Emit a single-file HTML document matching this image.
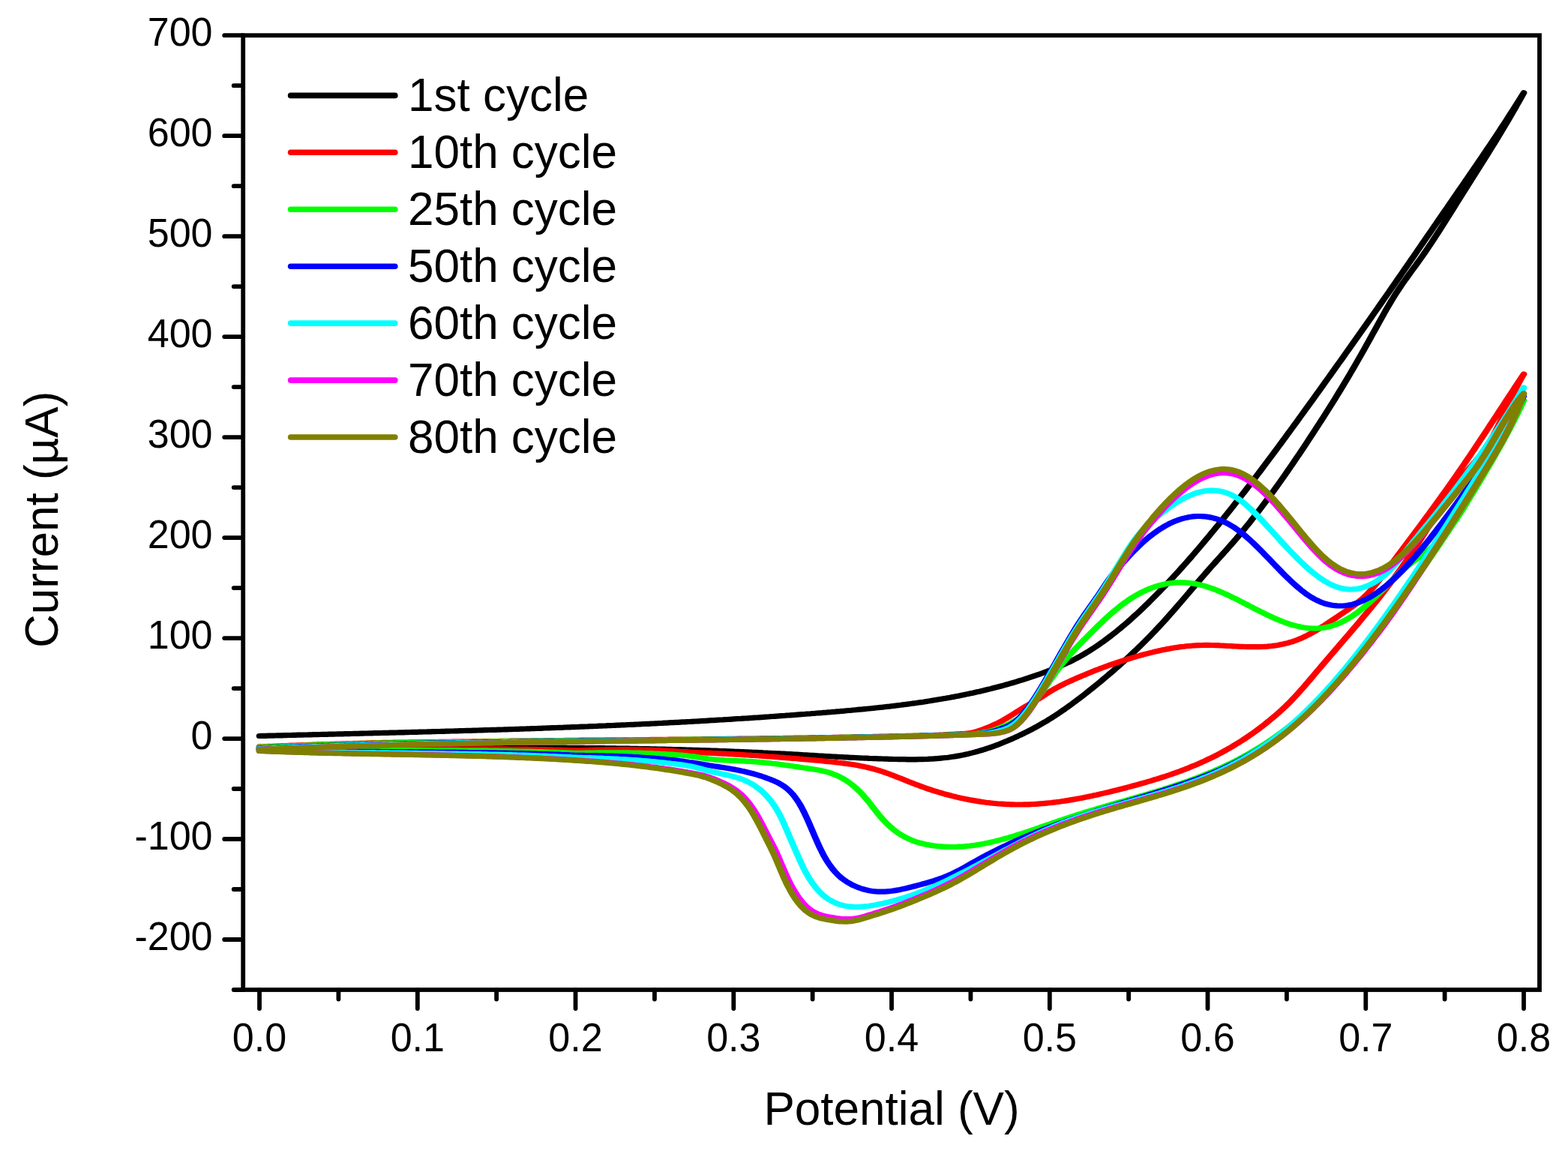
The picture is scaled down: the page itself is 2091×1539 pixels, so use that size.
<!DOCTYPE html>
<html lang="en"><head><meta charset="utf-8"><title>Cyclic voltammogram</title>
<style>html,body{margin:0;padding:0;background:#fff}body{width:2091px;height:1539px;overflow:hidden}svg{display:block}text{font-family:"Liberation Sans",Arial,Helvetica,sans-serif;fill:#000}.tk{font-size:52px}.tt{font-size:62px}.lg{font-size:62px}.c{fill:none;stroke-width:7.2;stroke-linejoin:round;stroke-linecap:round}.ax{fill:none;stroke:#000;stroke-width:5.8;stroke-linecap:round}</style></head><body>
<svg width="2091" height="1539" viewBox="0 0 2091 1539">
<rect width="2091" height="1539" fill="#fff"/>
<g class="c" transform="scale(1.2,1)">
<path stroke="#000000" d="M288.33,981.5 290.83,981.4 293.33,981.4 295.83,981.3 298.33,981.2 300.83,981.1 303.33,981.1 305.83,981 308.33,980.9 310.83,980.8 313.33,980.8 315.83,980.7 318.33,980.6 320.83,980.5 323.33,980.5 325.83,980.4 328.33,980.3 330.83,980.2 333.33,980.2 335.83,980.1 338.33,980 340.83,980 343.33,979.9 345.83,979.8 348.33,979.7 350.83,979.7 353.33,979.6 355.83,979.5 358.33,979.4 360.83,979.4 363.33,979.3 365.83,979.2 368.33,979.2 370.83,979.1 373.33,979 375.83,978.9 378.33,978.9 380.83,978.8 383.33,978.7 385.83,978.6 388.33,978.6 390.83,978.5 393.33,978.4 395.83,978.3 398.33,978.3 400.83,978.2 403.33,978.1 405.83,978 408.33,978 410.83,977.9 413.33,977.8 415.83,977.7 418.33,977.7 420.83,977.6 423.33,977.5 425.83,977.4 428.33,977.4 430.83,977.3 433.33,977.2 435.83,977.1 438.33,977.1 440.83,977 443.33,976.9 445.83,976.8 448.33,976.8 450.83,976.7 453.33,976.6 455.83,976.5 458.33,976.4 460.83,976.4 463.33,976.3 465.83,976.2 468.33,976.1 470.83,976 473.33,976 475.83,975.9 478.33,975.8 480.83,975.7 483.33,975.6 485.83,975.5 488.33,975.5 490.83,975.4 493.33,975.3 495.83,975.2 498.33,975.1 500.83,975 503.33,975 505.83,974.9 508.33,974.8 510.83,974.7 513.33,974.6 515.83,974.5 518.33,974.4 520.83,974.4 523.33,974.3 525.83,974.2 528.33,974.1 530.83,974 533.33,973.9 535.83,973.8 538.33,973.7 540.83,973.6 543.33,973.5 545.83,973.4 548.33,973.3 550.83,973.3 553.33,973.2 555.83,973.1 558.33,973 560.83,972.9 563.33,972.8 565.83,972.7 568.33,972.6 570.83,972.5 573.33,972.4 575.83,972.3 578.33,972.2 580.83,972.1 583.33,972 585.83,971.9 588.33,971.8 590.83,971.7 593.33,971.6 595.83,971.5 598.33,971.4 600.83,971.3 603.33,971.1 605.83,971 608.33,970.9 610.83,970.8 613.33,970.7 615.83,970.6 618.33,970.5 620.83,970.4 623.33,970.3 625.83,970.2 628.33,970 630.83,969.9 633.33,969.8 635.83,969.7 638.33,969.6 640.83,969.5 643.33,969.3 645.83,969.2 648.33,969.1 650.83,969 653.33,968.9 655.83,968.7 658.33,968.6 660.83,968.5 663.33,968.4 665.83,968.2 668.33,968.1 670.83,968 673.33,967.9 675.83,967.7 678.33,967.6 680.83,967.5 683.33,967.3 685.83,967.2 688.33,967.1 690.83,966.9 693.33,966.8 695.83,966.7 698.33,966.5 700.83,966.4 703.33,966.3 705.83,966.1 708.33,966 710.83,965.8 713.33,965.7 715.83,965.5 718.33,965.4 720.83,965.3 723.33,965.1 725.83,965 728.33,964.8 730.83,964.7 733.33,964.5 735.83,964.4 738.33,964.2 740.83,964.1 743.33,963.9 745.83,963.7 748.33,963.6 750.83,963.4 753.33,963.3 755.83,963.1 758.33,962.9 760.83,962.8 763.33,962.6 765.83,962.5 768.33,962.3 770.83,962.1 773.33,962 775.83,961.8 778.33,961.6 780.83,961.4 783.33,961.3 785.83,961.1 788.33,960.9 790.83,960.7 793.33,960.6 795.83,960.4 798.33,960.2 800.83,960 803.33,959.9 805.83,959.7 808.33,959.5 810.83,959.3 813.33,959.1 815.83,958.9 818.33,958.7 820.83,958.5 823.33,958.4 825.83,958.2 828.33,958 830.83,957.8 833.33,957.6 835.83,957.4 838.33,957.2 840.83,957 843.33,956.8 845.83,956.6 848.33,956.4 850.83,956.2 853.33,956 855.83,955.7 858.33,955.5 860.83,955.3 863.33,955.1 865.83,954.9 868.33,954.7 870.83,954.5 873.33,954.2 875.83,954 878.33,953.8 880.83,953.6 883.33,953.4 885.83,953.1 888.33,952.9 890.83,952.7 893.33,952.5 895.83,952.2 898.33,952 900.83,951.8 903.33,951.5 905.83,951.3 908.33,951 910.83,950.8 913.33,950.6 915.83,950.3 918.33,950.1 920.83,949.8 923.33,949.6 925.83,949.3 928.33,949.1 930.83,948.8 933.33,948.6 935.83,948.3 938.33,948.1 940.83,947.8 943.33,947.5 945.83,947.3 948.33,947 950.83,946.7 953.33,946.4 955.83,946.1 958.33,945.9 960.83,945.6 963.33,945.3 965.83,945 968.33,944.7 970.83,944.4 973.33,944 975.83,943.7 978.33,943.4 980.83,943.1 983.33,942.7 985.83,942.4 988.33,942.1 990.83,941.7 993.33,941.4 995.83,941 998.33,940.6 1000.83,940.3 1003.33,939.9 1005.83,939.5 1008.33,939.1 1010.83,938.7 1013.33,938.3 1015.83,937.9 1018.33,937.5 1020.83,937 1023.33,936.6 1025.83,936.2 1028.33,935.7 1030.83,935.2 1033.33,934.8 1035.83,934.3 1038.33,933.8 1040.83,933.3 1043.33,932.8 1045.83,932.3 1048.33,931.8 1050.83,931.3 1053.33,930.7 1055.83,930.2 1058.33,929.6 1060.83,929.1 1063.33,928.5 1065.83,927.9 1068.33,927.3 1070.83,926.7 1073.33,926.1 1075.83,925.4 1078.33,924.8 1080.83,924.2 1083.33,923.5 1085.83,922.8 1088.33,922.2 1090.83,921.5 1093.33,920.8 1095.83,920 1098.33,919.3 1100.83,918.6 1103.33,917.8 1105.83,917 1108.33,916.3 1110.83,915.5 1113.33,914.7 1115.83,913.9 1118.33,913 1120.83,912.2 1123.33,911.3 1125.83,910.5 1128.33,909.6 1130.83,908.7 1133.33,907.7 1135.83,906.8 1138.33,905.9 1140.83,904.9 1143.33,903.9 1145.83,902.9 1148.33,901.9 1150.83,900.9 1153.33,899.8 1155.83,898.8 1158.33,897.7 1160.83,896.6 1163.33,895.5 1165.83,894.3 1168.33,893.2 1170.83,892 1173.33,890.8 1175.83,889.5 1178.33,888.3 1180.83,886.9 1183.33,885.6 1185.83,884.2 1188.33,882.8 1190.83,881.3 1193.33,879.8 1195.83,878.2 1198.33,876.6 1200.83,875 1203.33,873.3 1205.83,871.5 1208.33,869.7 1210.83,867.8 1213.33,865.9 1215.83,864 1218.33,862 1220.83,859.9 1223.33,857.8 1225.83,855.7 1228.33,853.5 1230.83,851.3 1233.33,849 1235.83,846.7 1238.33,844.4 1240.83,842 1243.33,839.5 1245.83,837.1 1248.33,834.5 1250.83,832 1253.33,829.4 1255.83,826.7 1258.33,824 1260.83,821.3 1263.33,818.6 1265.83,815.8 1268.33,813 1270.83,810.1 1273.33,807.2 1275.83,804.3 1278.33,801.3 1280.83,798.3 1283.33,795.3 1285.83,792.3 1288.33,789.2 1290.83,786.1 1293.33,783 1295.83,779.8 1298.33,776.6 1300.83,773.4 1303.33,770.2 1305.83,766.9 1308.33,763.7 1310.83,760.4 1313.33,757 1315.83,753.7 1318.33,750.3 1320.83,746.9 1323.33,743.5 1325.83,740 1328.33,736.5 1330.83,733 1333.33,729.5 1335.83,726 1338.33,722.4 1340.83,718.8 1343.33,715.3 1345.83,711.6 1348.33,708 1350.83,704.3 1353.33,700.7 1355.83,697 1358.33,693.3 1360.83,689.5 1363.33,685.8 1365.83,682 1368.33,678.2 1370.83,674.4 1373.33,670.6 1375.83,666.8 1378.33,662.9 1380.83,659.1 1383.33,655.2 1385.83,651.3 1388.33,647.4 1390.83,643.5 1393.33,639.5 1395.83,635.6 1398.33,631.6 1400.83,627.7 1403.33,623.7 1405.83,619.7 1408.33,615.7 1410.83,611.7 1413.33,607.7 1415.83,603.6 1418.33,599.6 1420.83,595.5 1423.33,591.5 1425.83,587.4 1428.33,583.3 1430.83,579.2 1433.33,575.1 1435.83,571 1438.33,566.9 1440.83,562.8 1443.33,558.7 1445.83,554.5 1448.33,550.4 1450.83,546.2 1453.33,542.1 1455.83,537.9 1458.33,533.8 1460.83,529.6 1463.33,525.4 1465.83,521.3 1468.33,517.1 1470.83,512.9 1473.33,508.7 1475.83,504.5 1478.33,500.3 1480.83,496.1 1483.33,491.9 1485.83,487.7 1488.33,483.5 1490.83,479.3 1493.33,475.1 1495.83,470.8 1498.33,466.6 1500.83,462.4 1503.33,458.1 1505.83,453.9 1508.33,449.6 1510.83,445.4 1513.33,441.1 1515.83,436.9 1518.33,432.6 1520.83,428.4 1523.33,424.1 1525.83,419.8 1528.33,415.5 1530.83,411.2 1533.33,406.9 1535.83,402.6 1538.33,398.3 1540.83,394 1543.33,389.7 1545.83,385.4 1548.33,381.1 1550.83,376.8 1553.33,372.4 1555.83,368.1 1558.33,363.8 1560.83,359.4 1563.33,355.1 1565.83,350.8 1568.33,346.4 1570.83,342.1 1573.33,337.7 1575.83,333.3 1578.33,329 1580.83,324.6 1583.33,320.3 1585.83,315.9 1588.33,311.6 1590.83,307.2 1593.33,302.8 1595.83,298.5 1598.33,294.1 1600.83,289.7 1603.33,285.4 1605.83,281 1608.33,276.7 1610.83,272.3 1613.33,268 1615.83,263.6 1618.33,259.2 1620.83,254.9 1623.33,250.5 1625.83,246.2 1628.33,241.8 1630.83,237.5 1633.33,233.1 1635.83,228.7 1638.33,224.4 1640.83,220 1643.33,215.6 1645.83,211.2 1648.33,206.7 1650.83,202.3 1653.33,197.9 1655.83,193.4 1658.33,188.9 1660.83,184.4 1663.33,179.9 1665.83,175.4 1668.33,170.8 1670.83,166.2 1673.33,161.6 1675.83,157 1678.33,152.3 1680.83,147.7 1683.33,142.9 1685.83,138.2 1688.33,133.4 1690.83,128.6 1693.33,123.8 1690.83,129.1 1688.33,134.5 1685.83,139.8 1683.33,145.1 1680.83,150.3 1678.33,155.5 1675.83,160.6 1673.33,165.6 1670.83,170.7 1668.33,175.7 1665.83,180.6 1663.33,185.6 1660.83,190.5 1658.33,195.3 1655.83,200.2 1653.33,205 1650.83,209.8 1648.33,214.6 1645.83,219.3 1643.33,224.1 1640.83,228.9 1638.33,233.6 1635.83,238.3 1633.33,243.1 1630.83,247.8 1628.33,252.6 1625.83,257.3 1623.33,262.1 1620.83,266.9 1618.33,271.7 1615.83,276.5 1613.33,281.3 1610.83,286.1 1608.33,290.8 1605.83,295.6 1603.33,300.4 1600.83,305.1 1598.33,309.8 1595.83,314.4 1593.33,319 1590.83,323.6 1588.33,328.1 1585.83,332.5 1583.33,336.9 1580.83,341.2 1578.33,345.5 1575.83,349.7 1573.33,353.8 1570.83,357.9 1568.33,362 1565.83,366.1 1563.33,370.3 1560.83,374.5 1558.33,378.8 1555.83,383.2 1553.33,387.7 1550.83,392.3 1548.33,397.1 1545.83,402 1543.33,407.1 1540.83,412.2 1538.33,417.5 1535.83,422.9 1533.33,428.3 1530.83,433.7 1528.33,439.2 1525.83,444.6 1523.33,450 1520.83,455.4 1518.33,460.8 1515.83,466.2 1513.33,471.5 1510.83,476.8 1508.33,482 1505.83,487.2 1503.33,492.4 1500.83,497.5 1498.33,502.6 1495.83,507.6 1493.33,512.6 1490.83,517.6 1488.33,522.5 1485.83,527.4 1483.33,532.3 1480.83,537.1 1478.33,541.9 1475.83,546.6 1473.33,551.4 1470.83,556.1 1468.33,560.7 1465.83,565.4 1463.33,570 1460.83,574.6 1458.33,579.2 1455.83,583.8 1453.33,588.4 1450.83,592.9 1448.33,597.4 1445.83,601.9 1443.33,606.4 1440.83,610.8 1438.33,615.3 1435.83,619.7 1433.33,624 1430.83,628.4 1428.33,632.7 1425.83,637 1423.33,641.3 1420.83,645.5 1418.33,649.7 1415.83,653.9 1413.33,658 1410.83,662.1 1408.33,666.2 1405.83,670.2 1403.33,674.2 1400.83,678.2 1398.33,682.1 1395.83,686 1393.33,689.8 1390.83,693.6 1388.33,697.4 1385.83,701.1 1383.33,704.8 1380.83,708.5 1378.33,712 1375.83,715.6 1373.33,719.1 1370.83,722.6 1368.33,726 1365.83,729.4 1363.33,732.8 1360.83,736.1 1358.33,739.5 1355.83,742.8 1353.33,746.2 1350.83,749.5 1348.33,752.9 1345.83,756.2 1343.33,759.6 1340.83,763 1338.33,766.5 1335.83,769.9 1333.33,773.4 1330.83,776.9 1328.33,780.4 1325.83,783.9 1323.33,787.4 1320.83,791 1318.33,794.5 1315.83,798 1313.33,801.5 1310.83,805 1308.33,808.4 1305.83,811.9 1303.33,815.3 1300.83,818.7 1298.33,822.1 1295.83,825.5 1293.33,828.8 1290.83,832.1 1288.33,835.3 1285.83,838.5 1283.33,841.7 1280.83,844.8 1278.33,847.9 1275.83,851 1273.33,854 1270.83,857 1268.33,860 1265.83,862.9 1263.33,865.8 1260.83,868.7 1258.33,871.5 1255.83,874.3 1253.33,877.1 1250.83,879.9 1248.33,882.6 1245.83,885.3 1243.33,888 1240.83,890.6 1238.33,893.3 1235.83,895.9 1233.33,898.4 1230.83,901 1228.33,903.5 1225.83,906.1 1223.33,908.6 1220.83,911 1218.33,913.5 1215.83,915.9 1213.33,918.3 1210.83,920.7 1208.33,923.1 1205.83,925.5 1203.33,927.8 1200.83,930.1 1198.33,932.4 1195.83,934.7 1193.33,936.9 1190.83,939.1 1188.33,941.3 1185.83,943.4 1183.33,945.6 1180.83,947.6 1178.33,949.7 1175.83,951.7 1173.33,953.7 1170.83,955.7 1168.33,957.6 1165.83,959.4 1163.33,961.3 1160.83,963.1 1158.33,964.8 1155.83,966.5 1153.33,968.2 1150.83,969.9 1148.33,971.5 1145.83,973.1 1143.33,974.6 1140.83,976.2 1138.33,977.6 1135.83,979.1 1133.33,980.5 1130.83,982 1128.33,983.3 1125.83,984.7 1123.33,986 1120.83,987.3 1118.33,988.6 1115.83,989.8 1113.33,991 1110.83,992.2 1108.33,993.4 1105.83,994.5 1103.33,995.6 1100.83,996.6 1098.33,997.7 1095.83,998.6 1093.33,999.6 1090.83,1000.5 1088.33,1001.4 1085.83,1002.3 1083.33,1003.1 1080.83,1003.9 1078.33,1004.6 1075.83,1005.4 1073.33,1006 1070.83,1006.7 1068.33,1007.3 1065.83,1007.9 1063.33,1008.4 1060.83,1008.9 1058.33,1009.3 1055.83,1009.8 1053.33,1010.2 1050.83,1010.5 1048.33,1010.8 1045.83,1011.1 1043.33,1011.4 1040.83,1011.7 1038.33,1011.9 1035.83,1012.1 1033.33,1012.2 1030.83,1012.4 1028.33,1012.5 1025.83,1012.6 1023.33,1012.7 1020.83,1012.7 1018.33,1012.8 1015.83,1012.8 1013.33,1012.8 1010.83,1012.8 1008.33,1012.8 1005.83,1012.7 1003.33,1012.7 1000.83,1012.7 998.33,1012.6 995.83,1012.5 993.33,1012.5 990.83,1012.4 988.33,1012.3 985.83,1012.2 983.33,1012.1 980.83,1012 978.33,1011.9 975.83,1011.8 973.33,1011.7 970.83,1011.6 968.33,1011.5 965.83,1011.4 963.33,1011.2 960.83,1011.1 958.33,1011 955.83,1010.8 953.33,1010.7 950.83,1010.5 948.33,1010.4 945.83,1010.3 943.33,1010.1 940.83,1009.9 938.33,1009.8 935.83,1009.6 933.33,1009.5 930.83,1009.3 928.33,1009.1 925.83,1009 923.33,1008.8 920.83,1008.6 918.33,1008.5 915.83,1008.3 913.33,1008.1 910.83,1008 908.33,1007.8 905.83,1007.6 903.33,1007.4 900.83,1007.3 898.33,1007.1 895.83,1006.9 893.33,1006.8 890.83,1006.6 888.33,1006.4 885.83,1006.2 883.33,1006.1 880.83,1005.9 878.33,1005.7 875.83,1005.6 873.33,1005.4 870.83,1005.2 868.33,1005.1 865.83,1004.9 863.33,1004.8 860.83,1004.6 858.33,1004.5 855.83,1004.3 853.33,1004.2 850.83,1004 848.33,1003.9 845.83,1003.7 843.33,1003.6 840.83,1003.4 838.33,1003.3 835.83,1003.2 833.33,1003 830.83,1002.9 828.33,1002.8 825.83,1002.6 823.33,1002.5 820.83,1002.4 818.33,1002.3 815.83,1002.2 813.33,1002 810.83,1001.9 808.33,1001.8 805.83,1001.7 803.33,1001.6 800.83,1001.5 798.33,1001.3 795.83,1001.2 793.33,1001.1 790.83,1001 788.33,1000.9 785.83,1000.8 783.33,1000.7 780.83,1000.6 778.33,1000.5 775.83,1000.4 773.33,1000.3 770.83,1000.3 768.33,1000.2 765.83,1000.1 763.33,1000 760.83,999.9 758.33,999.8 755.83,999.7 753.33,999.7 750.83,999.6 748.33,999.5 745.83,999.4 743.33,999.3 740.83,999.3 738.33,999.2 735.83,999.1 733.33,999.1 730.83,999 728.33,998.9 725.83,998.9 723.33,998.8 720.83,998.7 718.33,998.7 715.83,998.6 713.33,998.6 710.83,998.5 708.33,998.4 705.83,998.4 703.33,998.3 700.83,998.3 698.33,998.2 695.83,998.2 693.33,998.1 690.83,998.1 688.33,998 685.83,998 683.33,997.9 680.83,997.9 678.33,997.9 675.83,997.8 673.33,997.8 670.83,997.7 668.33,997.7 665.83,997.7 663.33,997.6 660.83,997.6 658.33,997.6 655.83,997.5 653.33,997.5 650.83,997.5 648.33,997.4 645.83,997.4 643.33,997.4 640.83,997.4 638.33,997.3 635.83,997.3 633.33,997.3 630.83,997.3 628.33,997.2 625.83,997.2 623.33,997.2 620.83,997.2 618.33,997.2 615.83,997.2 613.33,997.1 610.83,997.1 608.33,997.1 605.83,997.1 603.33,997.1 600.83,997.1 598.33,997.1 595.83,997.1 593.33,997 590.83,997 588.33,997 585.83,997 583.33,997 580.83,997 578.33,997 575.83,997 573.33,997 570.83,997 568.33,997 565.83,997 563.33,997 560.83,997 558.33,997 555.83,997 553.33,997 550.83,997 548.33,997 545.83,997 543.33,997 540.83,997 538.33,997 535.83,997 533.33,997 530.83,997 528.33,997 525.83,997 523.33,997 520.83,997 518.33,997 515.83,997.1 513.33,997.1 510.83,997.1 508.33,997.1 505.83,997.1 503.33,997.1 500.83,997.1 498.33,997.1 495.83,997.1 493.33,997.1 490.83,997.2 488.33,997.2 485.83,997.2 483.33,997.2 480.83,997.2 478.33,997.2 475.83,997.2 473.33,997.2 470.83,997.3 468.33,997.3 465.83,997.3 463.33,997.3 460.83,997.3 458.33,997.3 455.83,997.3 453.33,997.4 450.83,997.4 448.33,997.4 445.83,997.4 443.33,997.4 440.83,997.4 438.33,997.4 435.83,997.5 433.33,997.5 430.83,997.5 428.33,997.5 425.83,997.5 423.33,997.5 420.83,997.5 418.33,997.6 415.83,997.6 413.33,997.6 410.83,997.6 408.33,997.6 405.83,997.6 403.33,997.7 400.83,997.7 398.33,997.7 395.83,997.7 393.33,997.7 390.83,997.7 388.33,997.7 385.83,997.7 383.33,997.8 380.83,997.8 378.33,997.8 375.83,997.8 373.33,997.8 370.83,997.8 368.33,997.8 365.83,997.8 363.33,997.9 360.83,997.9 358.33,997.9 355.83,997.9 353.33,997.9 350.83,997.9 348.33,997.9 345.83,997.9 343.33,997.9 340.83,997.9 338.33,998 335.83,998 333.33,998 330.83,998 328.33,998 325.83,998 323.33,998 320.83,998 318.33,998 315.83,998 313.33,998 310.83,998 308.33,998 305.83,998 303.33,998 300.83,998 298.33,998 295.83,998 293.33,998 290.83,998 288.33,998.0"/>
<path stroke="#ff0000" d="M288.33,995.9 290.83,995.8 293.33,995.7 295.83,995.5 298.33,995.4 300.83,995.3 303.33,995.2 305.83,995 308.33,994.9 310.83,994.8 313.33,994.7 315.83,994.6 318.33,994.5 320.83,994.3 323.33,994.2 325.83,994.1 328.33,994 330.83,993.9 333.33,993.8 335.83,993.7 338.33,993.6 340.83,993.5 343.33,993.4 345.83,993.3 348.33,993.2 350.83,993.1 353.33,992.9 355.83,992.8 358.33,992.7 360.83,992.6 363.33,992.5 365.83,992.5 368.33,992.4 370.83,992.3 373.33,992.2 375.83,992.1 378.33,992 380.83,991.9 383.33,991.8 385.83,991.7 388.33,991.6 390.83,991.5 393.33,991.4 395.83,991.3 398.33,991.3 400.83,991.2 403.33,991.1 405.83,991 408.33,990.9 410.83,990.8 413.33,990.7 415.83,990.7 418.33,990.6 420.83,990.5 423.33,990.5 425.83,990.4 428.33,990.4 430.83,990.4 433.33,990.3 435.83,990.3 438.33,990.2 440.83,990.2 443.33,990.1 445.83,990.1 448.33,990 450.83,990 453.33,990 455.83,989.9 458.33,989.9 460.83,989.8 463.33,989.8 465.83,989.8 468.33,989.7 470.83,989.7 473.33,989.6 475.83,989.6 478.33,989.6 480.83,989.5 483.33,989.5 485.83,989.5 488.33,989.4 490.83,989.4 493.33,989.4 495.83,989.3 498.33,989.3 500.83,989.3 503.33,989.2 505.83,989.2 508.33,989.2 510.83,989.1 513.33,989.1 515.83,989.1 518.33,989.1 520.83,989 523.33,989 525.83,988.9 528.33,988.9 530.83,988.8 533.33,988.8 535.83,988.7 538.33,988.7 540.83,988.7 543.33,988.6 545.83,988.6 548.33,988.5 550.83,988.5 553.33,988.5 555.83,988.4 558.33,988.4 560.83,988.3 563.33,988.3 565.83,988.3 568.33,988.2 570.83,988.2 573.33,988.2 575.83,988.1 578.33,988.1 580.83,988.1 583.33,988 585.83,988 588.33,988 590.83,987.9 593.33,987.9 595.83,987.9 598.33,987.8 600.83,987.8 603.33,987.8 605.83,987.7 608.33,987.7 610.83,987.7 613.33,987.6 615.83,987.6 618.33,987.6 620.83,987.5 623.33,987.5 625.83,987.5 628.33,987.4 630.83,987.4 633.33,987.4 635.83,987.4 638.33,987.3 640.83,987.3 643.33,987.3 645.83,987.2 648.33,987.2 650.83,987.2 653.33,987.2 655.83,987.1 658.33,987.1 660.83,987.1 663.33,987.1 665.83,987 668.33,987 670.83,987 673.33,986.9 675.83,986.9 678.33,986.9 680.83,986.9 683.33,986.8 685.83,986.8 688.33,986.8 690.83,986.8 693.33,986.7 695.83,986.7 698.33,986.7 700.83,986.7 703.33,986.6 705.83,986.6 708.33,986.6 710.83,986.6 713.33,986.5 715.83,986.5 718.33,986.5 720.83,986.5 723.33,986.4 725.83,986.4 728.33,986.4 730.83,986.4 733.33,986.3 735.83,986.3 738.33,986.3 740.83,986.3 743.33,986.2 745.83,986.2 748.33,986.2 750.83,986.2 753.33,986.1 755.83,986.1 758.33,986.1 760.83,986.1 763.33,986 765.83,986 768.33,986 770.83,985.9 773.33,985.9 775.83,985.9 778.33,985.8 780.83,985.8 783.33,985.8 785.83,985.7 788.33,985.7 790.83,985.7 793.33,985.6 795.83,985.6 798.33,985.6 800.83,985.5 803.33,985.5 805.83,985.5 808.33,985.4 810.83,985.4 813.33,985.3 815.83,985.3 818.33,985.3 820.83,985.2 823.33,985.2 825.83,985.2 828.33,985.1 830.83,985.1 833.33,985 835.83,985 838.33,985 840.83,984.9 843.33,984.9 845.83,984.8 848.33,984.8 850.83,984.8 853.33,984.7 855.83,984.7 858.33,984.6 860.83,984.6 863.33,984.6 865.83,984.5 868.33,984.5 870.83,984.4 873.33,984.4 875.83,984.3 878.33,984.3 880.83,984.3 883.33,984.2 885.83,984.2 888.33,984.1 890.83,984.1 893.33,984 895.83,984 898.33,983.9 900.83,983.9 903.33,983.8 905.83,983.8 908.33,983.8 910.83,983.7 913.33,983.7 915.83,983.6 918.33,983.6 920.83,983.5 923.33,983.5 925.83,983.4 928.33,983.3 930.83,983.3 933.33,983.2 935.83,983.2 938.33,983.1 940.83,983.1 943.33,983 945.83,983 948.33,982.9 950.83,982.9 953.33,982.8 955.83,982.7 958.33,982.7 960.83,982.6 963.33,982.6 965.83,982.5 968.33,982.5 970.83,982.4 973.33,982.3 975.83,982.3 978.33,982.2 980.83,982.1 983.33,982.1 985.83,982 988.33,982 990.83,981.9 993.33,981.8 995.83,981.8 998.33,981.7 1000.83,981.6 1003.33,981.6 1005.83,981.5 1008.33,981.4 1010.83,981.3 1013.33,981.3 1015.83,981.2 1018.33,981.1 1020.83,981 1023.33,980.9 1025.83,980.9 1028.33,980.8 1030.83,980.7 1033.33,980.6 1035.83,980.5 1038.33,980.4 1040.83,980.3 1043.33,980.2 1045.83,980 1048.33,979.9 1050.83,979.7 1053.33,979.6 1055.83,979.4 1058.33,979.3 1060.83,979.1 1063.33,978.9 1065.83,978.8 1068.33,978.6 1070.83,978.5 1073.33,978.2 1075.83,977.9 1078.33,977.5 1080.83,976.9 1083.33,976.2 1085.83,975.4 1088.33,974.4 1090.83,973.4 1093.33,972.3 1095.83,971.1 1098.33,969.9 1100.83,968.6 1103.33,967.3 1105.83,966 1108.33,964.6 1110.83,963.1 1113.33,961.5 1115.83,959.8 1118.33,958.1 1120.83,956.2 1123.33,954.4 1125.83,952.5 1128.33,950.5 1130.83,948.6 1133.33,946.8 1135.83,944.9 1138.33,943.1 1140.83,941.4 1143.33,939.7 1145.83,938 1148.33,936.2 1150.83,934.5 1153.33,932.7 1155.83,930.9 1158.33,929 1160.83,927 1163.33,925 1165.83,923.1 1168.33,921.2 1170.83,919.5 1173.33,917.8 1175.83,916.2 1178.33,914.6 1180.83,913.1 1183.33,911.6 1185.83,910.2 1188.33,908.8 1190.83,907.5 1193.33,906.1 1195.83,904.8 1198.33,903.5 1200.83,902.2 1203.33,900.9 1205.83,899.7 1208.33,898.4 1210.83,897.2 1213.33,896 1215.83,894.8 1218.33,893.6 1220.83,892.5 1223.33,891.3 1225.83,890.2 1228.33,889.1 1230.83,888 1233.33,886.9 1235.83,885.9 1238.33,884.8 1240.83,883.8 1243.33,882.8 1245.83,881.8 1248.33,880.9 1250.83,879.9 1253.33,879 1255.83,878.1 1258.33,877.2 1260.83,876.3 1263.33,875.4 1265.83,874.6 1268.33,873.7 1270.83,872.9 1273.33,872.1 1275.83,871.4 1278.33,870.6 1280.83,869.9 1283.33,869.1 1285.83,868.5 1288.33,867.8 1290.83,867.1 1293.33,866.5 1295.83,865.9 1298.33,865.4 1300.83,864.8 1303.33,864.3 1305.83,863.8 1308.33,863.4 1310.83,862.9 1313.33,862.5 1315.83,862.2 1318.33,861.8 1320.83,861.5 1323.33,861.3 1325.83,861 1328.33,860.8 1330.83,860.7 1333.33,860.6 1335.83,860.5 1338.33,860.4 1340.83,860.4 1343.33,860.4 1345.83,860.5 1348.33,860.5 1350.83,860.6 1353.33,860.7 1355.83,860.9 1358.33,861 1360.83,861.2 1363.33,861.3 1365.83,861.5 1368.33,861.6 1370.83,861.8 1373.33,862 1375.83,862.1 1378.33,862.3 1380.83,862.4 1383.33,862.5 1385.83,862.6 1388.33,862.7 1390.83,862.7 1393.33,862.7 1395.83,862.7 1398.33,862.7 1400.83,862.6 1403.33,862.5 1405.83,862.3 1408.33,862.1 1410.83,861.8 1413.33,861.5 1415.83,861.1 1418.33,860.7 1420.83,860.2 1423.33,859.6 1425.83,859 1428.33,858.3 1430.83,857.6 1433.33,856.7 1435.83,855.8 1438.33,854.8 1440.83,853.7 1443.33,852.5 1445.83,851.3 1448.33,849.9 1450.83,848.5 1453.33,847 1455.83,845.4 1458.33,843.8 1460.83,842.1 1463.33,840.3 1465.83,838.5 1468.33,836.7 1470.83,834.8 1473.33,832.9 1475.83,830.9 1478.33,828.9 1480.83,826.9 1483.33,824.9 1485.83,822.9 1488.33,820.8 1490.83,818.8 1493.33,816.8 1495.83,814.8 1498.33,812.7 1500.83,810.6 1503.33,808.5 1505.83,806.3 1508.33,804 1510.83,801.6 1513.33,799.1 1515.83,796.4 1518.33,793.5 1520.83,790.4 1523.33,787.1 1525.83,783.7 1528.33,780.2 1530.83,776.5 1533.33,772.7 1535.83,768.8 1538.33,764.9 1540.83,761 1543.33,757 1545.83,753 1548.33,749 1550.83,745 1553.33,741 1555.83,737 1558.33,733 1560.83,729 1563.33,725 1565.83,721 1568.33,717 1570.83,713 1573.33,708.9 1575.83,704.9 1578.33,700.9 1580.83,696.8 1583.33,692.7 1585.83,688.6 1588.33,684.6 1590.83,680.4 1593.33,676.3 1595.83,672.2 1598.33,668 1600.83,663.9 1603.33,659.7 1605.83,655.5 1608.33,651.3 1610.83,647.1 1613.33,642.8 1615.83,638.5 1618.33,634.2 1620.83,629.9 1623.33,625.6 1625.83,621.2 1628.33,616.8 1630.83,612.4 1633.33,608 1635.83,603.5 1638.33,599.1 1640.83,594.6 1643.33,590.1 1645.83,585.5 1648.33,581 1650.83,576.5 1653.33,571.9 1655.83,567.3 1658.33,562.8 1660.83,558.2 1663.33,553.6 1665.83,549 1668.33,544.5 1670.83,539.9 1673.33,535.3 1675.83,530.7 1678.33,526.2 1680.83,521.6 1683.33,517.1 1685.83,512.5 1688.33,508 1690.83,503.5 1693.33,499 1690.83,504 1688.33,509.4 1685.83,515.2 1683.33,521.2 1680.83,527.4 1678.33,533.8 1675.83,540.3 1673.33,546.8 1670.83,553.3 1668.33,559.7 1665.83,565.9 1663.33,572 1660.83,577.7 1658.33,583.2 1655.83,588.3 1653.33,593.1 1650.83,597.6 1648.33,601.9 1645.83,605.9 1643.33,609.8 1640.83,613.5 1638.33,617.1 1635.83,620.6 1633.33,624 1630.83,627.4 1628.33,630.8 1625.83,634.2 1623.33,637.7 1620.83,641.4 1618.33,645.1 1615.83,649 1613.33,653.1 1610.83,657.4 1608.33,661.8 1605.83,666.4 1603.33,671.1 1600.83,676 1598.33,680.9 1595.83,685.8 1593.33,690.8 1590.83,695.8 1588.33,700.7 1585.83,705.6 1583.33,710.5 1580.83,715.3 1578.33,720 1575.83,724.7 1573.33,729.3 1570.83,733.9 1568.33,738.4 1565.83,742.8 1563.33,747.2 1560.83,751.5 1558.33,755.8 1555.83,760 1553.33,764.1 1550.83,768.3 1548.33,772.3 1545.83,776.4 1543.33,780.4 1540.83,784.3 1538.33,788.2 1535.83,792.1 1533.33,795.9 1530.83,799.7 1528.33,803.5 1525.83,807.2 1523.33,810.9 1520.83,814.6 1518.33,818.2 1515.83,821.8 1513.33,825.4 1510.83,829 1508.33,832.6 1505.83,836.1 1503.33,839.6 1500.83,843.1 1498.33,846.7 1495.83,850.2 1493.33,853.6 1490.83,857.1 1488.33,860.6 1485.83,864.1 1483.33,867.6 1480.83,871.1 1478.33,874.6 1475.83,878.1 1473.33,881.6 1470.83,885.1 1468.33,888.6 1465.83,892.2 1463.33,895.7 1460.83,899.3 1458.33,902.8 1455.83,906.4 1453.33,909.9 1450.83,913.4 1448.33,916.8 1445.83,920.2 1443.33,923.6 1440.83,926.9 1438.33,930.1 1435.83,933.3 1433.33,936.4 1430.83,939.4 1428.33,942.3 1425.83,945.1 1423.33,947.9 1420.83,950.6 1418.33,953.2 1415.83,955.8 1413.33,958.3 1410.83,960.8 1408.33,963.2 1405.83,965.6 1403.33,968 1400.83,970.2 1398.33,972.5 1395.83,974.7 1393.33,976.9 1390.83,979 1388.33,981.1 1385.83,983.1 1383.33,985.1 1380.83,987.1 1378.33,989 1375.83,990.9 1373.33,992.7 1370.83,994.5 1368.33,996.3 1365.83,998.1 1363.33,999.8 1360.83,1001.4 1358.33,1003.1 1355.83,1004.7 1353.33,1006.3 1350.83,1007.8 1348.33,1009.3 1345.83,1010.8 1343.33,1012.2 1340.83,1013.7 1338.33,1015.1 1335.83,1016.4 1333.33,1017.8 1330.83,1019.1 1328.33,1020.4 1325.83,1021.6 1323.33,1022.8 1320.83,1024.1 1318.33,1025.2 1315.83,1026.4 1313.33,1027.6 1310.83,1028.7 1308.33,1029.8 1305.83,1030.9 1303.33,1031.9 1300.83,1033 1298.33,1034 1295.83,1035 1293.33,1036 1290.83,1036.9 1288.33,1037.9 1285.83,1038.8 1283.33,1039.7 1280.83,1040.7 1278.33,1041.6 1275.83,1042.4 1273.33,1043.3 1270.83,1044.2 1268.33,1045 1265.83,1045.8 1263.33,1046.7 1260.83,1047.5 1258.33,1048.3 1255.83,1049.1 1253.33,1049.9 1250.83,1050.7 1248.33,1051.5 1245.83,1052.2 1243.33,1053 1240.83,1053.8 1238.33,1054.5 1235.83,1055.2 1233.33,1056 1230.83,1056.7 1228.33,1057.4 1225.83,1058.1 1223.33,1058.8 1220.83,1059.5 1218.33,1060.2 1215.83,1060.8 1213.33,1061.5 1210.83,1062.1 1208.33,1062.7 1205.83,1063.3 1203.33,1063.9 1200.83,1064.5 1198.33,1065 1195.83,1065.6 1193.33,1066.1 1190.83,1066.6 1188.33,1067.1 1185.83,1067.6 1183.33,1068.1 1180.83,1068.5 1178.33,1069 1175.83,1069.4 1173.33,1069.7 1170.83,1070.1 1168.33,1070.5 1165.83,1070.8 1163.33,1071.1 1160.83,1071.4 1158.33,1071.7 1155.83,1071.9 1153.33,1072.1 1150.83,1072.3 1148.33,1072.5 1145.83,1072.6 1143.33,1072.8 1140.83,1072.8 1138.33,1072.9 1135.83,1073 1133.33,1073 1130.83,1073 1128.33,1073 1125.83,1072.9 1123.33,1072.8 1120.83,1072.7 1118.33,1072.6 1115.83,1072.4 1113.33,1072.2 1110.83,1072 1108.33,1071.8 1105.83,1071.5 1103.33,1071.2 1100.83,1070.9 1098.33,1070.5 1095.83,1070.2 1093.33,1069.8 1090.83,1069.4 1088.33,1068.9 1085.83,1068.4 1083.33,1067.9 1080.83,1067.4 1078.33,1066.9 1075.83,1066.3 1073.33,1065.7 1070.83,1065.1 1068.33,1064.4 1065.83,1063.8 1063.33,1063.1 1060.83,1062.3 1058.33,1061.6 1055.83,1060.8 1053.33,1060 1050.83,1059.2 1048.33,1058.4 1045.83,1057.5 1043.33,1056.6 1040.83,1055.7 1038.33,1054.8 1035.83,1053.8 1033.33,1052.8 1030.83,1051.8 1028.33,1050.8 1025.83,1049.7 1023.33,1048.6 1020.83,1047.5 1018.33,1046.4 1015.83,1045.2 1013.33,1044.1 1010.83,1042.9 1008.33,1041.7 1005.83,1040.5 1003.33,1039.3 1000.83,1038.1 998.33,1036.9 995.83,1035.7 993.33,1034.6 990.83,1033.4 988.33,1032.3 985.83,1031.2 983.33,1030.1 980.83,1029.1 978.33,1028.2 975.83,1027.2 973.33,1026.4 970.83,1025.5 968.33,1024.7 965.83,1024 963.33,1023.3 960.83,1022.6 958.33,1022 955.83,1021.4 953.33,1020.8 950.83,1020.3 948.33,1019.8 945.83,1019.3 943.33,1018.9 940.83,1018.5 938.33,1018.1 935.83,1017.7 933.33,1017.3 930.83,1017 928.33,1016.6 925.83,1016.3 923.33,1016 920.83,1015.7 918.33,1015.4 915.83,1015.1 913.33,1014.8 910.83,1014.5 908.33,1014.2 905.83,1013.9 903.33,1013.7 900.83,1013.4 898.33,1013.1 895.83,1012.8 893.33,1012.6 890.83,1012.3 888.33,1012.1 885.83,1011.8 883.33,1011.5 880.83,1011.3 878.33,1011.1 875.83,1010.8 873.33,1010.6 870.83,1010.3 868.33,1010.1 865.83,1009.9 863.33,1009.6 860.83,1009.4 858.33,1009.2 855.83,1009 853.33,1008.8 850.83,1008.6 848.33,1008.3 845.83,1008.1 843.33,1007.9 840.83,1007.7 838.33,1007.5 835.83,1007.4 833.33,1007.2 830.83,1007 828.33,1006.8 825.83,1006.6 823.33,1006.4 820.83,1006.2 818.33,1006.1 815.83,1005.9 813.33,1005.7 810.83,1005.6 808.33,1005.4 805.83,1005.2 803.33,1005.1 800.83,1004.9 798.33,1004.8 795.83,1004.6 793.33,1004.5 790.83,1004.3 788.33,1004.2 785.83,1004.1 783.33,1004 780.83,1003.9 778.33,1003.8 775.83,1003.7 773.33,1003.5 770.83,1003.4 768.33,1003.3 765.83,1003.1 763.33,1002.9 760.83,1002.7 758.33,1002.5 755.83,1002.3 753.33,1002 750.83,1001.8 748.33,1001.6 745.83,1001.4 743.33,1001.3 740.83,1001.1 738.33,1001 735.83,1000.8 733.33,1000.7 730.83,1000.6 728.33,1000.5 725.83,1000.3 723.33,1000.3 720.83,1000.2 718.33,1000.1 715.83,1000 713.33,1000 710.83,999.9 708.33,999.9 705.83,999.8 703.33,999.8 700.83,999.8 698.33,999.7 695.83,999.7 693.33,999.7 690.83,999.7 688.33,999.7 685.83,999.8 683.33,999.8 680.83,999.8 678.33,999.8 675.83,999.9 673.33,999.9 670.83,1000 668.33,1000 665.83,1000.1 663.33,1000.2 660.83,1000.2 658.33,1000.3 655.83,1000.4 653.33,1000.5 650.83,1000.6 648.33,1000.7 645.83,1000.8 643.33,1000.9 640.83,1000.9 638.33,1000.8 635.83,1000.7 633.33,1000.6 630.83,1000.5 628.33,1000.4 625.83,1000.3 623.33,1000.2 620.83,1000.1 618.33,1000.1 615.83,1000 613.33,999.9 610.83,999.8 608.33,999.8 605.83,999.7 603.33,999.6 600.83,999.6 598.33,999.5 595.83,999.4 593.33,999.4 590.83,999.3 588.33,999.3 585.83,999.2 583.33,999.2 580.83,999.2 578.33,999.1 575.83,999.1 573.33,999 570.83,999 568.33,999 565.83,999 563.33,998.9 560.83,998.9 558.33,998.9 555.83,998.9 553.33,998.9 550.83,998.8 548.33,998.8 545.83,998.8 543.33,998.8 540.83,998.8 538.33,998.8 535.83,998.8 533.33,998.8 530.83,998.8 528.33,998.8 525.83,998.8 523.33,998.8 520.83,998.8 518.33,998.8 515.83,998.8 513.33,998.8 510.83,998.8 508.33,998.8 505.83,998.8 503.33,998.8 500.83,998.8 498.33,998.8 495.83,998.8 493.33,998.8 490.83,998.8 488.33,998.8 485.83,998.8 483.33,998.8 480.83,998.8 478.33,998.8 475.83,998.8 473.33,998.9 470.83,998.9 468.33,998.9 465.83,998.9 463.33,998.9 460.83,998.9 458.33,998.9 455.83,998.9 453.33,998.9 450.83,999 448.33,999 445.83,999 443.33,999 440.83,999 438.33,999 435.83,999 433.33,999.1 430.83,999.1 428.33,999.1 425.83,999.1 423.33,999.1 420.83,999.1 418.33,999.1 415.83,999.2 413.33,999.2 410.83,999.2 408.33,999.2 405.83,999.2 403.33,999.2 400.83,999.2 398.33,999.2 395.83,999.3 393.33,999.3 390.83,999.3 388.33,999.3 385.83,999.3 383.33,999.3 380.83,999.3 378.33,999.3 375.83,999.3 373.33,999.3 370.83,999.3 368.33,999.3 365.83,999.3 363.33,999.3 360.83,999.3 358.33,999.3 355.83,999.3 353.33,999.3 350.83,999.3 348.33,999.3 345.83,999.3 343.33,999.2 340.83,999.2 338.33,999.2 335.83,999.2 333.33,999.2 330.83,999.2 328.33,999.1 325.83,999.1 323.33,999.1 320.83,999.1 318.33,999 315.83,999 313.33,999 310.83,998.9 308.33,998.9 305.83,998.8 303.33,998.8 300.83,998.8 298.33,998.7 295.83,998.7 293.33,998.6 290.83,998.6 288.33,998.5"/>
<path stroke="#00ff00" d="M288.33,996.5 290.83,996.4 293.33,996.3 295.83,996.1 298.33,996 300.83,995.9 303.33,995.8 305.83,995.6 308.33,995.5 310.83,995.4 313.33,995.3 315.83,995.2 318.33,995.1 320.83,994.9 323.33,994.8 325.83,994.7 328.33,994.6 330.83,994.5 333.33,994.4 335.83,994.3 338.33,994.2 340.83,994.1 343.33,994 345.83,993.9 348.33,993.8 350.83,993.7 353.33,993.5 355.83,993.4 358.33,993.3 360.83,993.2 363.33,993.1 365.83,993.1 368.33,993 370.83,992.9 373.33,992.8 375.83,992.7 378.33,992.6 380.83,992.5 383.33,992.4 385.83,992.3 388.33,992.2 390.83,992.1 393.33,992 395.83,991.9 398.33,991.9 400.83,991.8 403.33,991.7 405.83,991.6 408.33,991.5 410.83,991.4 413.33,991.3 415.83,991.3 418.33,991.2 420.83,991.1 423.33,991.1 425.83,991 428.33,991 430.83,990.9 433.33,990.9 435.83,990.8 438.33,990.8 440.83,990.7 443.33,990.7 445.83,990.6 448.33,990.6 450.83,990.5 453.33,990.5 455.83,990.4 458.33,990.4 460.83,990.3 463.33,990.3 465.83,990.3 468.33,990.2 470.83,990.2 473.33,990.1 475.83,990.1 478.33,990 480.83,990 483.33,990 485.83,989.9 488.33,989.9 490.83,989.8 493.33,989.8 495.83,989.8 498.33,989.7 500.83,989.7 503.33,989.7 505.83,989.6 508.33,989.6 510.83,989.6 513.33,989.5 515.83,989.5 518.33,989.4 520.83,989.4 523.33,989.4 525.83,989.3 528.33,989.3 530.83,989.2 533.33,989.2 535.83,989.1 538.33,989.1 540.83,989 543.33,989 545.83,989 548.33,988.9 550.83,988.9 553.33,988.8 555.83,988.8 558.33,988.8 560.83,988.7 563.33,988.7 565.83,988.6 568.33,988.6 570.83,988.6 573.33,988.5 575.83,988.5 578.33,988.4 580.83,988.4 583.33,988.4 585.83,988.3 588.33,988.3 590.83,988.3 593.33,988.2 595.83,988.2 598.33,988.2 600.83,988.1 603.33,988.1 605.83,988.1 608.33,988 610.83,988 613.33,988 615.83,987.9 618.33,987.9 620.83,987.9 623.33,987.8 625.83,987.8 628.33,987.8 630.83,987.7 633.33,987.7 635.83,987.7 638.33,987.6 640.83,987.6 643.33,987.6 645.83,987.5 648.33,987.5 650.83,987.5 653.33,987.5 655.83,987.4 658.33,987.4 660.83,987.4 663.33,987.3 665.83,987.3 668.33,987.3 670.83,987.2 673.33,987.2 675.83,987.2 678.33,987.2 680.83,987.1 683.33,987.1 685.83,987.1 688.33,987.1 690.83,987 693.33,987 695.83,987 698.33,986.9 700.83,986.9 703.33,986.9 705.83,986.9 708.33,986.8 710.83,986.8 713.33,986.8 715.83,986.8 718.33,986.7 720.83,986.7 723.33,986.7 725.83,986.6 728.33,986.6 730.83,986.6 733.33,986.6 735.83,986.5 738.33,986.5 740.83,986.5 743.33,986.5 745.83,986.4 748.33,986.4 750.83,986.4 753.33,986.3 755.83,986.3 758.33,986.3 760.83,986.3 763.33,986.2 765.83,986.2 768.33,986.2 770.83,986.1 773.33,986.1 775.83,986.1 778.33,986 780.83,986 783.33,986 785.83,985.9 788.33,985.9 790.83,985.9 793.33,985.8 795.83,985.8 798.33,985.8 800.83,985.7 803.33,985.7 805.83,985.6 808.33,985.6 810.83,985.6 813.33,985.5 815.83,985.5 818.33,985.5 820.83,985.4 823.33,985.4 825.83,985.3 828.33,985.3 830.83,985.3 833.33,985.2 835.83,985.2 838.33,985.1 840.83,985.1 843.33,985.1 845.83,985 848.33,985 850.83,984.9 853.33,984.9 855.83,984.9 858.33,984.8 860.83,984.8 863.33,984.7 865.83,984.7 868.33,984.7 870.83,984.6 873.33,984.6 875.83,984.5 878.33,984.5 880.83,984.4 883.33,984.4 885.83,984.3 888.33,984.3 890.83,984.3 893.33,984.2 895.83,984.2 898.33,984.1 900.83,984.1 903.33,984 905.83,984 908.33,983.9 910.83,983.9 913.33,983.8 915.83,983.8 918.33,983.7 920.83,983.7 923.33,983.6 925.83,983.6 928.33,983.5 930.83,983.5 933.33,983.4 935.83,983.4 938.33,983.3 940.83,983.2 943.33,983.2 945.83,983.1 948.33,983.1 950.83,983 953.33,983 955.83,982.9 958.33,982.8 960.83,982.8 963.33,982.7 965.83,982.7 968.33,982.6 970.83,982.6 973.33,982.5 975.83,982.4 978.33,982.4 980.83,982.3 983.33,982.2 985.83,982.2 988.33,982.1 990.83,982 993.33,982 995.83,981.9 998.33,981.8 1000.83,981.8 1003.33,981.7 1005.83,981.6 1008.33,981.6 1010.83,981.5 1013.33,981.4 1015.83,981.3 1018.33,981.3 1020.83,981.2 1023.33,981.1 1025.83,981 1028.33,980.9 1030.83,980.9 1033.33,980.8 1035.83,980.7 1038.33,980.6 1040.83,980.5 1043.33,980.4 1045.83,980.3 1048.33,980.3 1050.83,980.2 1053.33,980.1 1055.83,980 1058.33,979.9 1060.83,979.8 1063.33,979.7 1065.83,979.6 1068.33,979.5 1070.83,979.4 1073.33,979.3 1075.83,979.1 1078.33,979 1080.83,978.9 1083.33,978.8 1085.83,978.3 1088.33,977.9 1090.83,977.4 1093.33,976.9 1095.83,976.4 1098.33,975.9 1100.83,975.2 1103.33,974.2 1105.83,973.1 1108.33,972 1110.83,970.7 1113.33,969.4 1115.83,968.4 1118.33,967.3 1120.83,966 1123.33,964.4 1125.83,962.4 1128.33,961 1130.83,959.2 1133.33,957.1 1135.83,954.6 1138.33,951.9 1140.83,948.8 1143.33,945.6 1145.83,942.1 1148.33,938.5 1150.83,934.6 1153.33,930.6 1155.83,926.5 1158.33,922.3 1160.83,918 1163.33,913.6 1165.83,909.2 1168.33,905.1 1170.83,900.9 1173.33,896.7 1175.83,892.5 1178.33,888.5 1180.83,884.6 1183.33,880.9 1185.83,877.4 1188.33,874.1 1190.83,870.7 1193.33,867.5 1195.83,864.2 1198.33,861.1 1200.83,857.9 1203.33,854.8 1205.83,851.7 1208.33,848.7 1210.83,845.7 1213.33,842.7 1215.83,839.7 1218.33,836.8 1220.83,833.9 1223.33,831 1225.83,828.2 1228.33,825.4 1230.83,822.6 1233.33,819.9 1235.83,817.3 1238.33,814.7 1240.83,812.2 1243.33,809.8 1245.83,807.5 1248.33,805.2 1250.83,803 1253.33,800.9 1255.83,798.9 1258.33,796.9 1260.83,795.1 1263.33,793.4 1265.83,791.7 1268.33,790.1 1270.83,788.7 1273.33,787.3 1275.83,786 1278.33,784.7 1280.83,783.6 1283.33,782.6 1285.83,781.6 1288.33,780.7 1290.83,780 1293.33,779.3 1295.83,778.7 1298.33,778.1 1300.83,777.7 1303.33,777.4 1305.83,777.1 1308.33,776.9 1310.83,776.8 1313.33,776.8 1315.83,776.9 1318.33,777.1 1320.83,777.3 1323.33,777.7 1325.83,778.1 1328.33,778.6 1330.83,779.2 1333.33,779.9 1335.83,780.6 1338.33,781.4 1340.83,782.3 1343.33,783.3 1345.83,784.3 1348.33,785.4 1350.83,786.5 1353.33,787.7 1355.83,789 1358.33,790.3 1360.83,791.6 1363.33,793 1365.83,794.4 1368.33,795.8 1370.83,797.3 1373.33,798.7 1375.83,800.2 1378.33,801.8 1380.83,803.3 1383.33,804.9 1385.83,806.4 1388.33,808 1390.83,809.5 1393.33,811.1 1395.83,812.6 1398.33,814.1 1400.83,815.7 1403.33,817.1 1405.83,818.6 1408.33,820.1 1410.83,821.5 1413.33,822.9 1415.83,824.2 1418.33,825.5 1420.83,826.8 1423.33,828 1425.83,829.2 1428.33,830.3 1430.83,831.3 1433.33,832.3 1435.83,833.3 1438.33,834.1 1440.83,834.9 1443.33,835.6 1445.83,836.2 1448.33,836.8 1450.83,837.2 1453.33,837.6 1455.83,837.8 1458.33,838 1460.83,838.1 1463.33,838 1465.83,837.9 1468.33,837.6 1470.83,837.2 1473.33,836.7 1475.83,836.1 1478.33,835.3 1480.83,834.4 1483.33,833.4 1485.83,832.3 1488.33,831 1490.83,829.7 1493.33,828.2 1495.83,826.5 1498.33,824.8 1500.83,823 1503.33,821.1 1505.83,819 1508.33,816.9 1510.83,814.6 1513.33,812.3 1515.83,809.9 1518.33,807.3 1520.83,804.7 1523.33,802 1525.83,799.3 1528.33,796.4 1530.83,793.5 1533.33,790.5 1535.83,787.5 1538.33,784.4 1540.83,781.3 1543.33,778.3 1545.83,775.2 1548.33,772.2 1550.83,769.2 1553.33,766.3 1555.83,763.5 1558.33,760.8 1560.83,758.1 1563.33,755.6 1565.83,753.2 1568.33,750.8 1570.83,748.5 1573.33,746.3 1575.83,744.1 1578.33,741.8 1580.83,739.6 1583.33,737.3 1585.83,735 1588.33,732.7 1590.83,730.2 1593.33,727.6 1595.83,724.9 1598.33,722.1 1600.83,719.1 1603.33,715.9 1605.83,712.6 1608.33,709 1610.83,705.2 1613.33,701.2 1615.83,697 1618.33,692.6 1620.83,688.1 1623.33,683.4 1625.83,678.7 1628.33,673.8 1630.83,668.9 1633.33,663.9 1635.83,658.9 1638.33,653.9 1640.83,648.9 1643.33,643.9 1645.83,638.9 1648.33,633.9 1650.83,628.9 1653.33,623.9 1655.83,618.8 1658.33,613.7 1660.83,608.5 1663.33,603.3 1665.83,598 1668.33,592.7 1670.83,587.2 1673.33,581.7 1675.83,576.2 1678.33,570.5 1680.83,564.7 1683.33,558.8 1685.83,552.8 1688.33,546.7 1690.83,540.4 1693.33,534 1690.83,540.1 1688.33,546.1 1685.83,552.1 1683.33,558 1680.83,563.8 1678.33,569.6 1675.83,575.3 1673.33,580.9 1670.83,586.5 1668.33,592 1665.83,597.4 1663.33,602.8 1660.83,608.2 1658.33,613.5 1655.83,618.7 1653.33,623.9 1650.83,629 1648.33,634.1 1645.83,639.2 1643.33,644.2 1640.83,649.1 1638.33,654.1 1635.83,658.9 1633.33,663.8 1630.83,668.6 1628.33,673.3 1625.83,678.1 1623.33,682.8 1620.83,687.4 1618.33,692.1 1615.83,696.7 1613.33,701.2 1610.83,705.8 1608.33,710.3 1605.83,714.8 1603.33,719.3 1600.83,723.8 1598.33,728.2 1595.83,732.6 1593.33,737.1 1590.83,741.5 1588.33,745.8 1585.83,750.2 1583.33,754.5 1580.83,758.9 1578.33,763.2 1575.83,767.5 1573.33,771.8 1570.83,776 1568.33,780.3 1565.83,784.5 1563.33,788.7 1560.83,792.9 1558.33,797.1 1555.83,801.3 1553.33,805.4 1550.83,809.6 1548.33,813.7 1545.83,817.8 1543.33,821.9 1540.83,825.9 1538.33,830 1535.83,834 1533.33,838 1530.83,842 1528.33,846 1525.83,849.9 1523.33,853.8 1520.83,857.7 1518.33,861.6 1515.83,865.4 1513.33,869.2 1510.83,873 1508.33,876.7 1505.83,880.4 1503.33,884.1 1500.83,887.7 1498.33,891.3 1495.83,894.8 1493.33,898.3 1490.83,901.8 1488.33,905.2 1485.83,908.6 1483.33,911.9 1480.83,915.2 1478.33,918.4 1475.83,921.6 1473.33,924.7 1470.83,927.8 1468.33,930.8 1465.83,933.8 1463.33,936.7 1460.83,939.6 1458.33,942.5 1455.83,945.2 1453.33,948 1450.83,950.7 1448.33,953.3 1445.83,955.9 1443.33,958.5 1440.83,961 1438.33,963.5 1435.83,965.9 1433.33,968.3 1430.83,970.7 1428.33,973 1425.83,975.2 1423.33,977.5 1420.83,979.6 1418.33,981.8 1415.83,983.9 1413.33,986 1410.83,988 1408.33,990 1405.83,992 1403.33,993.9 1400.83,995.8 1398.33,997.7 1395.83,999.5 1393.33,1001.3 1390.83,1003 1388.33,1004.8 1385.83,1006.5 1383.33,1008.1 1380.83,1009.8 1378.33,1011.4 1375.83,1013 1373.33,1014.5 1370.83,1016 1368.33,1017.5 1365.83,1019 1363.33,1020.4 1360.83,1021.9 1358.33,1023.3 1355.83,1024.6 1353.33,1026 1350.83,1027.3 1348.33,1028.6 1345.83,1029.9 1343.33,1031.1 1340.83,1032.3 1338.33,1033.6 1335.83,1034.8 1333.33,1035.9 1330.83,1037.1 1328.33,1038.2 1325.83,1039.3 1323.33,1040.4 1320.83,1041.5 1318.33,1042.6 1315.83,1043.7 1313.33,1044.7 1310.83,1045.7 1308.33,1046.7 1305.83,1047.7 1303.33,1048.7 1300.83,1049.7 1298.33,1050.7 1295.83,1051.6 1293.33,1052.5 1290.83,1053.5 1288.33,1054.4 1285.83,1055.3 1283.33,1056.2 1280.83,1057.1 1278.33,1058 1275.83,1058.9 1273.33,1059.8 1270.83,1060.7 1268.33,1061.5 1265.83,1062.4 1263.33,1063.3 1260.83,1064.1 1258.33,1065 1255.83,1065.8 1253.33,1066.7 1250.83,1067.6 1248.33,1068.4 1245.83,1069.3 1243.33,1070.1 1240.83,1071 1238.33,1071.8 1235.83,1072.7 1233.33,1073.6 1230.83,1074.4 1228.33,1075.3 1225.83,1076.2 1223.33,1077.1 1220.83,1078 1218.33,1078.9 1215.83,1079.8 1213.33,1080.7 1210.83,1081.6 1208.33,1082.5 1205.83,1083.4 1203.33,1084.4 1200.83,1085.3 1198.33,1086.2 1195.83,1087.2 1193.33,1088.2 1190.83,1089.1 1188.33,1090.1 1185.83,1091.1 1183.33,1092.1 1180.83,1093.1 1178.33,1094.1 1175.83,1095.1 1173.33,1096.2 1170.83,1097.2 1168.33,1098.2 1165.83,1099.3 1163.33,1100.3 1160.83,1101.4 1158.33,1102.4 1155.83,1103.4 1153.33,1104.5 1150.83,1105.5 1148.33,1106.5 1145.83,1107.5 1143.33,1108.5 1140.83,1109.5 1138.33,1110.5 1135.83,1111.5 1133.33,1112.5 1130.83,1113.4 1128.33,1114.4 1125.83,1115.3 1123.33,1116.2 1120.83,1117.1 1118.33,1117.9 1115.83,1118.8 1113.33,1119.6 1110.83,1120.4 1108.33,1121.1 1105.83,1121.9 1103.33,1122.6 1100.83,1123.3 1098.33,1123.9 1095.83,1124.6 1093.33,1125.2 1090.83,1125.7 1088.33,1126.2 1085.83,1126.7 1083.33,1127.2 1080.83,1127.6 1078.33,1128 1075.83,1128.3 1073.33,1128.6 1070.83,1128.9 1068.33,1129.1 1065.83,1129.2 1063.33,1129.4 1060.83,1129.5 1058.33,1129.5 1055.83,1129.5 1053.33,1129.4 1050.83,1129.3 1048.33,1129.1 1045.83,1128.9 1043.33,1128.7 1040.83,1128.4 1038.33,1128 1035.83,1127.6 1033.33,1127.1 1030.83,1126.5 1028.33,1125.9 1025.83,1125.3 1023.33,1124.5 1020.83,1123.7 1018.33,1122.8 1015.83,1121.7 1013.33,1120.6 1010.83,1119.3 1008.33,1117.9 1005.83,1116.4 1003.33,1114.8 1000.83,1113 998.33,1111 995.83,1108.9 993.33,1106.6 990.83,1104.2 988.33,1101.5 985.83,1098.7 983.33,1095.6 980.83,1092.4 978.33,1089 975.83,1085.4 973.33,1081.6 970.83,1077.8 968.33,1073.9 965.83,1070.1 963.33,1066.3 960.83,1062.8 958.33,1059.4 955.83,1056.2 953.33,1053.3 950.83,1050.5 948.33,1048 945.83,1045.6 943.33,1043.4 940.83,1041.3 938.33,1039.4 935.83,1037.7 933.33,1036.1 930.83,1034.7 928.33,1033.4 925.83,1032.2 923.33,1031.1 920.83,1030.2 918.33,1029.3 915.83,1028.6 913.33,1027.9 910.83,1027.3 908.33,1026.8 905.83,1026.3 903.33,1025.8 900.83,1025.3 898.33,1024.9 895.83,1024.4 893.33,1024 890.83,1023.5 888.33,1023.1 885.83,1022.6 883.33,1022.2 880.83,1021.8 878.33,1021.3 875.83,1020.9 873.33,1020.5 870.83,1020.1 868.33,1019.7 865.83,1019.3 863.33,1018.9 860.83,1018.5 858.33,1018.2 855.83,1017.8 853.33,1017.5 850.83,1017.2 848.33,1016.9 845.83,1016.6 843.33,1016.3 840.83,1016.1 838.33,1015.8 835.83,1015.6 833.33,1015.4 830.83,1015.3 828.33,1015.1 825.83,1014.9 823.33,1014.8 820.83,1014.7 818.33,1014.5 815.83,1014.4 813.33,1014.3 810.83,1014.1 808.33,1014 805.83,1013.9 803.33,1013.7 800.83,1013.5 798.33,1013.3 795.83,1013.1 793.33,1012.8 790.83,1012.5 788.33,1012.2 785.83,1011.9 783.33,1011.4 780.83,1010.9 778.33,1010.4 775.83,1009.9 773.33,1009.4 770.83,1008.9 768.33,1008.5 765.83,1008.2 763.33,1007.8 760.83,1007.5 758.33,1007.2 755.83,1007 753.33,1006.8 750.83,1006.6 748.33,1006.4 745.83,1006.2 743.33,1006 740.83,1005.8 738.33,1005.6 735.83,1005.5 733.33,1005.3 730.83,1005.1 728.33,1005 725.83,1004.9 723.33,1004.7 720.83,1004.6 718.33,1004.5 715.83,1004.4 713.33,1004.3 710.83,1004.2 708.33,1004.2 705.83,1004.1 703.33,1004 700.83,1004 698.33,1003.9 695.83,1003.9 693.33,1003.8 690.83,1003.8 688.33,1003.8 685.83,1003.8 683.33,1003.8 680.83,1003.8 678.33,1003.8 675.83,1003.8 673.33,1003.8 670.83,1003.8 668.33,1003.9 665.83,1003.9 663.33,1003.9 660.83,1004 658.33,1004 655.83,1004.1 653.33,1004.1 650.83,1004.2 648.33,1004.3 645.83,1004.3 643.33,1004.4 640.83,1004.4 638.33,1004.3 635.83,1004.1 633.33,1004 630.83,1003.9 628.33,1003.8 625.83,1003.6 623.33,1003.5 620.83,1003.4 618.33,1003.3 615.83,1003.2 613.33,1003.1 610.83,1003 608.33,1002.9 605.83,1002.8 603.33,1002.7 600.83,1002.6 598.33,1002.5 595.83,1002.5 593.33,1002.4 590.83,1002.3 588.33,1002.2 585.83,1002.2 583.33,1002.1 580.83,1002 578.33,1002 575.83,1001.9 573.33,1001.8 570.83,1001.8 568.33,1001.7 565.83,1001.7 563.33,1001.6 560.83,1001.6 558.33,1001.5 555.83,1001.5 553.33,1001.4 550.83,1001.4 548.33,1001.4 545.83,1001.3 543.33,1001.3 540.83,1001.2 538.33,1001.2 535.83,1001.2 533.33,1001.2 530.83,1001.1 528.33,1001.1 525.83,1001.1 523.33,1001.1 520.83,1001 518.33,1001 515.83,1001 513.33,1001 510.83,1001 508.33,1000.9 505.83,1000.9 503.33,1000.9 500.83,1000.9 498.33,1000.9 495.83,1000.8 493.33,1000.8 490.83,1000.8 488.33,1000.8 485.83,1000.8 483.33,1000.8 480.83,1000.8 478.33,1000.7 475.83,1000.7 473.33,1000.7 470.83,1000.7 468.33,1000.7 465.83,1000.7 463.33,1000.7 460.83,1000.7 458.33,1000.7 455.83,1000.7 453.33,1000.7 450.83,1000.7 448.33,1000.7 445.83,1000.7 443.33,1000.7 440.83,1000.7 438.33,1000.7 435.83,1000.6 433.33,1000.6 430.83,1000.6 428.33,1000.6 425.83,1000.6 423.33,1000.6 420.83,1000.6 418.33,1000.6 415.83,1000.6 413.33,1000.6 410.83,1000.6 408.33,1000.6 405.83,1000.6 403.33,1000.6 400.83,1000.6 398.33,1000.6 395.83,1000.6 393.33,1000.5 390.83,1000.5 388.33,1000.5 385.83,1000.5 383.33,1000.5 380.83,1000.5 378.33,1000.5 375.83,1000.5 373.33,1000.4 370.83,1000.4 368.33,1000.4 365.83,1000.4 363.33,1000.4 360.83,1000.3 358.33,1000.3 355.83,1000.3 353.33,1000.3 350.83,1000.2 348.33,1000.2 345.83,1000.2 343.33,1000.2 340.83,1000.1 338.33,1000.1 335.83,1000.1 333.33,1000 330.83,1000 328.33,999.9 325.83,999.9 323.33,999.8 320.83,999.8 318.33,999.7 315.83,999.7 313.33,999.6 310.83,999.6 308.33,999.5 305.83,999.5 303.33,999.4 300.83,999.3 298.33,999.3 295.83,999.2 293.33,999.1 290.83,999.1 288.33,999.0"/>
<path stroke="#0000ff" d="M288.33,997.9 290.83,997.7 293.33,997.6 295.83,997.5 298.33,997.4 300.83,997.2 303.33,997.1 305.83,997 308.33,996.9 310.83,996.8 313.33,996.6 315.83,996.5 318.33,996.4 320.83,996.3 323.33,996.2 325.83,996.1 328.33,996 330.83,995.8 333.33,995.7 335.83,995.6 338.33,995.5 340.83,995.4 343.33,995.3 345.83,995.2 348.33,995.1 350.83,995 353.33,994.9 355.83,994.8 358.33,994.7 360.83,994.6 363.33,994.5 365.83,994.4 368.33,994.3 370.83,994.2 373.33,994.1 375.83,994 378.33,993.9 380.83,993.8 383.33,993.7 385.83,993.6 388.33,993.6 390.83,993.5 393.33,993.4 395.83,993.3 398.33,993.2 400.83,993.1 403.33,993 405.83,992.9 408.33,992.9 410.83,992.8 413.33,992.7 415.83,992.6 418.33,992.5 420.83,992.5 423.33,992.4 425.83,992.3 428.33,992.3 430.83,992.2 433.33,992.1 435.83,992.1 438.33,992 440.83,992 443.33,991.9 445.83,991.8 448.33,991.8 450.83,991.7 453.33,991.7 455.83,991.6 458.33,991.5 460.83,991.5 463.33,991.4 465.83,991.4 468.33,991.3 470.83,991.3 473.33,991.2 475.83,991.2 478.33,991.1 480.83,991.1 483.33,991 485.83,991 488.33,990.9 490.83,990.9 493.33,990.8 495.83,990.8 498.33,990.7 500.83,990.7 503.33,990.6 505.83,990.6 508.33,990.5 510.83,990.5 513.33,990.4 515.83,990.4 518.33,990.3 520.83,990.3 523.33,990.2 525.83,990.2 528.33,990.1 530.83,990.1 533.33,990 535.83,990 538.33,989.9 540.83,989.9 543.33,989.9 545.83,989.8 548.33,989.8 550.83,989.7 553.33,989.7 555.83,989.6 558.33,989.6 560.83,989.5 563.33,989.5 565.83,989.4 568.33,989.4 570.83,989.4 573.33,989.3 575.83,989.3 578.33,989.2 580.83,989.2 583.33,989.1 585.83,989.1 588.33,989.1 590.83,989 593.33,989 595.83,988.9 598.33,988.9 600.83,988.9 603.33,988.8 605.83,988.8 608.33,988.8 610.83,988.7 613.33,988.7 615.83,988.6 618.33,988.6 620.83,988.6 623.33,988.5 625.83,988.5 628.33,988.5 630.83,988.4 633.33,988.4 635.83,988.3 638.33,988.3 640.83,988.3 643.33,988.2 645.83,988.2 648.33,988.2 650.83,988.1 653.33,988.1 655.83,988.1 658.33,988 660.83,988 663.33,988 665.83,987.9 668.33,987.9 670.83,987.9 673.33,987.8 675.83,987.8 678.33,987.8 680.83,987.7 683.33,987.7 685.83,987.7 688.33,987.6 690.83,987.6 693.33,987.6 695.83,987.5 698.33,987.5 700.83,987.5 703.33,987.5 705.83,987.4 708.33,987.4 710.83,987.4 713.33,987.3 715.83,987.3 718.33,987.3 720.83,987.2 723.33,987.2 725.83,987.2 728.33,987.1 730.83,987.1 733.33,987.1 735.83,987 738.33,987 740.83,987 743.33,986.9 745.83,986.9 748.33,986.9 750.83,986.9 753.33,986.8 755.83,986.8 758.33,986.8 760.83,986.7 763.33,986.7 765.83,986.7 768.33,986.6 770.83,986.6 773.33,986.6 775.83,986.5 778.33,986.5 780.83,986.4 783.33,986.4 785.83,986.4 788.33,986.3 790.83,986.3 793.33,986.3 795.83,986.2 798.33,986.2 800.83,986.1 803.33,986.1 805.83,986.1 808.33,986 810.83,986 813.33,986 815.83,985.9 818.33,985.9 820.83,985.8 823.33,985.8 825.83,985.8 828.33,985.7 830.83,985.7 833.33,985.6 835.83,985.6 838.33,985.6 840.83,985.5 843.33,985.5 845.83,985.4 848.33,985.4 850.83,985.3 853.33,985.3 855.83,985.3 858.33,985.2 860.83,985.2 863.33,985.1 865.83,985.1 868.33,985 870.83,985 873.33,984.9 875.83,984.9 878.33,984.9 880.83,984.8 883.33,984.8 885.83,984.7 888.33,984.7 890.83,984.6 893.33,984.6 895.83,984.5 898.33,984.5 900.83,984.4 903.33,984.4 905.83,984.3 908.33,984.3 910.83,984.2 913.33,984.2 915.83,984.1 918.33,984.1 920.83,984 923.33,984 925.83,983.9 928.33,983.9 930.83,983.8 933.33,983.8 935.83,983.7 938.33,983.6 940.83,983.6 943.33,983.5 945.83,983.5 948.33,983.4 950.83,983.4 953.33,983.3 955.83,983.2 958.33,983.2 960.83,983.1 963.33,983.1 965.83,983 968.33,982.9 970.83,982.9 973.33,982.8 975.83,982.7 978.33,982.7 980.83,982.6 983.33,982.5 985.83,982.5 988.33,982.4 990.83,982.3 993.33,982.3 995.83,982.2 998.33,982.1 1000.83,982.1 1003.33,982 1005.83,981.9 1008.33,981.9 1010.83,981.8 1013.33,981.7 1015.83,981.6 1018.33,981.6 1020.83,981.5 1023.33,981.4 1025.83,981.3 1028.33,981.2 1030.83,981.2 1033.33,981.1 1035.83,981 1038.33,980.9 1040.83,980.8 1043.33,980.7 1045.83,980.6 1048.33,980.6 1050.83,980.5 1053.33,980.4 1055.83,980.3 1058.33,980.2 1060.83,980.1 1063.33,980 1065.83,979.9 1068.33,979.8 1070.83,979.7 1073.33,979.6 1075.83,979.4 1078.33,979.3 1080.83,979.2 1083.33,979.1 1085.83,978.7 1088.33,978.4 1090.83,978 1093.33,977.7 1095.83,977.3 1098.33,976.8 1100.83,976.3 1103.33,975.5 1105.83,974.6 1108.33,973.6 1110.83,972.5 1113.33,971.4 1115.83,970.4 1118.33,969.3 1120.83,968 1123.33,966.4 1125.83,964.4 1128.33,962.3 1130.83,959.7 1133.33,956.8 1135.83,953.6 1138.33,950.1 1140.83,946.3 1143.33,942.3 1145.83,938 1148.33,933.5 1150.83,928.9 1153.33,924.1 1155.83,919.3 1158.33,914.3 1160.83,909.3 1163.33,904.1 1165.83,899 1168.33,893.7 1170.83,888.5 1173.33,883.2 1175.83,877.9 1178.33,872.6 1180.83,867.4 1183.33,862.2 1185.83,857 1188.33,851.9 1190.83,846.8 1193.33,841.9 1195.83,837 1198.33,832.3 1200.83,827.7 1203.33,823.2 1205.83,818.9 1208.33,814.6 1210.83,810.3 1213.33,806 1215.83,801.8 1218.33,797.5 1220.83,793.2 1223.33,788.8 1225.83,784.3 1228.33,779.8 1230.83,775.4 1233.33,771.2 1235.83,767.1 1238.33,763.2 1240.83,759.7 1243.33,756.4 1245.83,753.3 1248.33,750.1 1250.83,746.7 1253.33,743.4 1255.83,740.1 1258.33,736.9 1260.83,733.8 1263.33,730.9 1265.83,728 1268.33,725.1 1270.83,722.4 1273.33,719.8 1275.83,717.3 1278.33,714.9 1280.83,712.6 1283.33,710.4 1285.83,708.3 1288.33,706.2 1290.83,704.3 1293.33,702.5 1295.83,700.8 1298.33,699.2 1300.83,697.7 1303.33,696.3 1305.83,695.1 1308.33,693.9 1310.83,692.9 1313.33,691.9 1315.83,691.1 1318.33,690.4 1320.83,689.8 1323.33,689.3 1325.83,688.9 1328.33,688.6 1330.83,688.5 1333.33,688.5 1335.83,688.6 1338.33,688.8 1340.83,689.1 1343.33,689.6 1345.83,690.1 1348.33,690.9 1350.83,691.7 1353.33,692.6 1355.83,693.7 1358.33,694.9 1360.83,696.3 1363.33,697.7 1365.83,699.3 1368.33,701.1 1370.83,702.9 1373.33,704.9 1375.83,707 1378.33,709.3 1380.83,711.7 1383.33,714.1 1385.83,716.7 1388.33,719.4 1390.83,722.1 1393.33,724.9 1395.83,727.8 1398.33,730.8 1400.83,733.8 1403.33,736.8 1405.83,739.9 1408.33,743 1410.83,746.1 1413.33,749.2 1415.83,752.4 1418.33,755.5 1420.83,758.6 1423.33,761.6 1425.83,764.7 1428.33,767.7 1430.83,770.6 1433.33,773.5 1435.83,776.3 1438.33,779.1 1440.83,781.7 1443.33,784.3 1445.83,786.8 1448.33,789.1 1450.83,791.4 1453.33,793.5 1455.83,795.5 1458.33,797.3 1460.83,799 1463.33,800.5 1465.83,801.9 1468.33,803.2 1470.83,804.3 1473.33,805.3 1475.83,806.1 1478.33,806.7 1480.83,807.3 1483.33,807.7 1485.83,807.9 1488.33,808 1490.83,808 1493.33,807.8 1495.83,807.5 1498.33,807.1 1500.83,806.6 1503.33,805.9 1505.83,805 1508.33,804.1 1510.83,803 1513.33,801.8 1515.83,800.5 1518.33,799 1520.83,797.5 1523.33,795.8 1525.83,793.9 1528.33,792 1530.83,790 1533.33,787.8 1535.83,785.6 1538.33,783.2 1540.83,780.8 1543.33,778.2 1545.83,775.6 1548.33,772.8 1550.83,770 1553.33,767.1 1555.83,764.1 1558.33,761.1 1560.83,758 1563.33,754.7 1565.83,751.5 1568.33,748.1 1570.83,744.7 1573.33,741.3 1575.83,737.7 1578.33,734.2 1580.83,730.5 1583.33,726.9 1585.83,723.2 1588.33,719.4 1590.83,715.6 1593.33,711.8 1595.83,707.9 1598.33,704 1600.83,700.1 1603.33,696.2 1605.83,692.2 1608.33,688.2 1610.83,684.2 1613.33,680.2 1615.83,676.1 1618.33,672 1620.83,667.9 1623.33,663.8 1625.83,659.6 1628.33,655.3 1630.83,651.1 1633.33,646.8 1635.83,642.4 1638.33,638.1 1640.83,633.6 1643.33,629.2 1645.83,624.6 1648.33,620.1 1650.83,615.5 1653.33,610.8 1655.83,606.1 1658.33,601.3 1660.83,596.5 1663.33,591.6 1665.83,586.7 1668.33,581.7 1670.83,576.6 1673.33,571.5 1675.83,566.3 1678.33,561.1 1680.83,555.7 1683.33,550.3 1685.83,544.9 1688.33,539.4 1690.83,533.7 1693.33,528.1 1690.83,533.8 1688.33,539.5 1685.83,545.2 1683.33,550.9 1680.83,556.5 1678.33,562 1675.83,567.6 1673.33,573.1 1670.83,578.5 1668.33,583.9 1665.83,589.3 1663.33,594.6 1660.83,599.9 1658.33,605.2 1655.83,610.4 1653.33,615.6 1650.83,620.8 1648.33,625.9 1645.83,631 1643.33,636.1 1640.83,641.1 1638.33,646.1 1635.83,651.1 1633.33,656 1630.83,660.9 1628.33,665.8 1625.83,670.6 1623.33,675.5 1620.83,680.2 1618.33,685 1615.83,689.8 1613.33,694.5 1610.83,699.2 1608.33,703.8 1605.83,708.5 1603.33,713.1 1600.83,717.7 1598.33,722.3 1595.83,726.8 1593.33,731.3 1590.83,735.8 1588.33,740.3 1585.83,744.8 1583.33,749.3 1580.83,753.7 1578.33,758.1 1575.83,762.5 1573.33,766.9 1570.83,771.2 1568.33,775.6 1565.83,779.9 1563.33,784.2 1560.83,788.5 1558.33,792.8 1555.83,797 1553.33,801.3 1550.83,805.5 1548.33,809.7 1545.83,813.8 1543.33,818 1540.83,822.1 1538.33,826.2 1535.83,830.3 1533.33,834.3 1530.83,838.3 1528.33,842.3 1525.83,846.3 1523.33,850.2 1520.83,854.1 1518.33,858 1515.83,861.8 1513.33,865.7 1510.83,869.5 1508.33,873.2 1505.83,876.9 1503.33,880.6 1500.83,884.3 1498.33,887.9 1495.83,891.5 1493.33,895.1 1490.83,898.6 1488.33,902.1 1485.83,905.5 1483.33,909 1480.83,912.3 1478.33,915.7 1475.83,919 1473.33,922.3 1470.83,925.5 1468.33,928.7 1465.83,931.8 1463.33,934.9 1460.83,938 1458.33,941 1455.83,944 1453.33,946.9 1450.83,949.8 1448.33,952.6 1445.83,955.4 1443.33,958.2 1440.83,960.9 1438.33,963.6 1435.83,966.2 1433.33,968.7 1430.83,971.3 1428.33,973.7 1425.83,976.2 1423.33,978.5 1420.83,980.8 1418.33,983.1 1415.83,985.3 1413.33,987.5 1410.83,989.6 1408.33,991.7 1405.83,993.8 1403.33,995.8 1400.83,997.7 1398.33,999.6 1395.83,1001.5 1393.33,1003.3 1390.83,1005.1 1388.33,1006.9 1385.83,1008.6 1383.33,1010.3 1380.83,1011.9 1378.33,1013.5 1375.83,1015.1 1373.33,1016.7 1370.83,1018.2 1368.33,1019.6 1365.83,1021.1 1363.33,1022.5 1360.83,1023.9 1358.33,1025.3 1355.83,1026.6 1353.33,1027.9 1350.83,1029.2 1348.33,1030.5 1345.83,1031.7 1343.33,1032.9 1340.83,1034.1 1338.33,1035.3 1335.83,1036.4 1333.33,1037.6 1330.83,1038.7 1328.33,1039.8 1325.83,1040.9 1323.33,1041.9 1320.83,1043 1318.33,1044 1315.83,1045.1 1313.33,1046.1 1310.83,1047.1 1308.33,1048.1 1305.83,1049 1303.33,1050 1300.83,1051 1298.33,1052 1295.83,1052.9 1293.33,1053.9 1290.83,1054.8 1288.33,1055.7 1285.83,1056.7 1283.33,1057.6 1280.83,1058.6 1278.33,1059.5 1275.83,1060.4 1273.33,1061.3 1270.83,1062.3 1268.33,1063.2 1265.83,1064.1 1263.33,1065 1260.83,1065.9 1258.33,1066.8 1255.83,1067.8 1253.33,1068.7 1250.83,1069.6 1248.33,1070.5 1245.83,1071.4 1243.33,1072.3 1240.83,1073.3 1238.33,1074.2 1235.83,1075.1 1233.33,1076 1230.83,1077 1228.33,1077.9 1225.83,1078.9 1223.33,1079.8 1220.83,1080.7 1218.33,1081.7 1215.83,1082.7 1213.33,1083.6 1210.83,1084.6 1208.33,1085.6 1205.83,1086.5 1203.33,1087.5 1200.83,1088.5 1198.33,1089.5 1195.83,1090.5 1193.33,1091.5 1190.83,1092.6 1188.33,1093.6 1185.83,1094.6 1183.33,1095.7 1180.83,1096.8 1178.33,1097.8 1175.83,1098.9 1173.33,1100 1170.83,1101.1 1168.33,1102.2 1165.83,1103.3 1163.33,1104.5 1160.83,1105.6 1158.33,1106.8 1155.83,1108 1153.33,1109.1 1150.83,1110.3 1148.33,1111.6 1145.83,1112.8 1143.33,1114 1140.83,1115.3 1138.33,1116.5 1135.83,1117.8 1133.33,1119.1 1130.83,1120.5 1128.33,1121.8 1125.83,1123.1 1123.33,1124.5 1120.83,1125.9 1118.33,1127.3 1115.83,1128.7 1113.33,1130.1 1110.83,1131.6 1108.33,1133.1 1105.83,1134.6 1103.33,1136.1 1100.83,1137.6 1098.33,1139.2 1095.83,1140.7 1093.33,1142.3 1090.83,1143.9 1088.33,1145.6 1085.83,1147.2 1083.33,1148.9 1080.83,1150.6 1078.33,1152.3 1075.83,1154 1073.33,1155.7 1070.83,1157.4 1068.33,1159.1 1065.83,1160.7 1063.33,1162.2 1060.83,1163.7 1058.33,1165.2 1055.83,1166.5 1053.33,1167.8 1050.83,1169 1048.33,1170.2 1045.83,1171.3 1043.33,1172.4 1040.83,1173.4 1038.33,1174.4 1035.83,1175.3 1033.33,1176.2 1030.83,1177.1 1028.33,1178 1025.83,1178.8 1023.33,1179.6 1020.83,1180.4 1018.33,1181.2 1015.83,1182 1013.33,1182.8 1010.83,1183.5 1008.33,1184.3 1005.83,1185 1003.33,1185.6 1000.83,1186.3 998.33,1186.9 995.83,1187.4 993.33,1187.9 990.83,1188.3 988.33,1188.7 985.83,1188.9 983.33,1189.1 980.83,1189.2 978.33,1189.2 975.83,1189.1 973.33,1188.9 970.83,1188.6 968.33,1188.2 965.83,1187.7 963.33,1187.1 960.83,1186.3 958.33,1185.5 955.83,1184.5 953.33,1183.4 950.83,1182.1 948.33,1180.8 945.83,1179.3 943.33,1177.6 940.83,1175.8 938.33,1173.8 935.83,1171.6 933.33,1169.1 930.83,1166.3 928.33,1163.1 925.83,1159.7 923.33,1155.8 920.83,1151.5 918.33,1146.9 915.83,1141.7 913.33,1136 910.83,1129.9 908.33,1123.3 905.83,1116.5 903.33,1109.5 900.83,1102.5 898.33,1095.6 895.83,1089 893.33,1082.7 890.83,1076.9 888.33,1071.6 885.83,1067 883.33,1062.8 880.83,1059.1 878.33,1055.9 875.83,1053 873.33,1050.5 870.83,1048.3 868.33,1046.4 865.83,1044.7 863.33,1043.2 860.83,1041.8 858.33,1040.6 855.83,1039.3 853.33,1038.2 850.83,1037.1 848.33,1036 845.83,1035 843.33,1034.1 840.83,1033.2 838.33,1032.3 835.83,1031.5 833.33,1030.7 830.83,1030 828.33,1029.2 825.83,1028.6 823.33,1027.9 820.83,1027.3 818.33,1026.7 815.83,1026.1 813.33,1025.6 810.83,1025 808.33,1024.5 805.83,1024 803.33,1023.5 800.83,1023.1 798.33,1022.6 795.83,1022.1 793.33,1021.7 790.83,1021.2 788.33,1020.8 785.83,1020.3 783.33,1019.9 780.83,1019.4 778.33,1018.9 775.83,1018.4 773.33,1017.9 770.83,1017.4 768.33,1016.9 765.83,1016.5 763.33,1016 760.83,1015.6 758.33,1015.1 755.83,1014.7 753.33,1014.3 750.83,1013.9 748.33,1013.6 745.83,1013.3 743.33,1013 740.83,1012.7 738.33,1012.4 735.83,1012.1 733.33,1011.9 730.83,1011.6 728.33,1011.4 725.83,1011.1 723.33,1010.9 720.83,1010.7 718.33,1010.5 715.83,1010.3 713.33,1010.1 710.83,1009.9 708.33,1009.7 705.83,1009.5 703.33,1009.4 700.83,1009.2 698.33,1009.1 695.83,1008.9 693.33,1008.8 690.83,1008.7 688.33,1008.6 685.83,1008.4 683.33,1008.3 680.83,1008.2 678.33,1008.1 675.83,1008.1 673.33,1008 670.83,1007.9 668.33,1007.8 665.83,1007.8 663.33,1007.7 660.83,1007.6 658.33,1007.6 655.83,1007.5 653.33,1007.5 650.83,1007.5 648.33,1007.4 645.83,1007.4 643.33,1007.4 640.83,1007.3 638.33,1007.2 635.83,1007 633.33,1006.9 630.83,1006.7 628.33,1006.6 625.83,1006.5 623.33,1006.4 620.83,1006.2 618.33,1006.1 615.83,1006 613.33,1005.9 610.83,1005.8 608.33,1005.7 605.83,1005.6 603.33,1005.5 600.83,1005.4 598.33,1005.3 595.83,1005.2 593.33,1005.1 590.83,1005 588.33,1004.9 585.83,1004.8 583.33,1004.8 580.83,1004.7 578.33,1004.6 575.83,1004.5 573.33,1004.5 570.83,1004.4 568.33,1004.3 565.83,1004.3 563.33,1004.2 560.83,1004.1 558.33,1004.1 555.83,1004 553.33,1004 550.83,1003.9 548.33,1003.9 545.83,1003.8 543.33,1003.8 540.83,1003.7 538.33,1003.7 535.83,1003.7 533.33,1003.6 530.83,1003.6 528.33,1003.6 525.83,1003.5 523.33,1003.5 520.83,1003.5 518.33,1003.4 515.83,1003.4 513.33,1003.4 510.83,1003.3 508.33,1003.3 505.83,1003.2 503.33,1003.2 500.83,1003.2 498.33,1003.1 495.83,1003.1 493.33,1003.1 490.83,1003.1 488.33,1003 485.83,1003 483.33,1003 480.83,1002.9 478.33,1002.9 475.83,1002.9 473.33,1002.9 470.83,1002.8 468.33,1002.8 465.83,1002.8 463.33,1002.8 460.83,1002.8 458.33,1002.7 455.83,1002.7 453.33,1002.7 450.83,1002.7 448.33,1002.6 445.83,1002.6 443.33,1002.6 440.83,1002.6 438.33,1002.6 435.83,1002.6 433.33,1002.5 430.83,1002.5 428.33,1002.5 425.83,1002.5 423.33,1002.5 420.83,1002.4 418.33,1002.4 415.83,1002.4 413.33,1002.4 410.83,1002.4 408.33,1002.3 405.83,1002.3 403.33,1002.3 400.83,1002.3 398.33,1002.2 395.83,1002.2 393.33,1002.2 390.83,1002.2 388.33,1002.1 385.83,1002.1 383.33,1002.1 380.83,1002.1 378.33,1002 375.83,1002 373.33,1002 370.83,1001.9 368.33,1001.9 365.83,1001.9 363.33,1001.8 360.83,1001.8 358.33,1001.8 355.83,1001.7 353.33,1001.7 350.83,1001.6 348.33,1001.6 345.83,1001.5 343.33,1001.5 340.83,1001.4 338.33,1001.4 335.83,1001.3 333.33,1001.3 330.83,1001.2 328.33,1001.2 325.83,1001.1 323.33,1001.1 320.83,1001 318.33,1000.9 315.83,1000.9 313.33,1000.8 310.83,1000.7 308.33,1000.7 305.83,1000.6 303.33,1000.5 300.83,1000.4 298.33,1000.3 295.83,1000.3 293.33,1000.2 290.83,1000.1 288.33,1000.0"/>
<path stroke="#00ffff" d="M288.33,998.5 290.83,998.3 293.33,998.2 295.83,998.1 298.33,998 300.83,997.8 303.33,997.7 305.83,997.6 308.33,997.5 310.83,997.4 313.33,997.2 315.83,997.1 318.33,997 320.83,996.9 323.33,996.8 325.83,996.7 328.33,996.6 330.83,996.4 333.33,996.3 335.83,996.2 338.33,996.1 340.83,996 343.33,995.9 345.83,995.8 348.33,995.7 350.83,995.6 353.33,995.5 355.83,995.4 358.33,995.3 360.83,995.2 363.33,995.1 365.83,995 368.33,994.9 370.83,994.8 373.33,994.7 375.83,994.6 378.33,994.5 380.83,994.4 383.33,994.3 385.83,994.2 388.33,994.2 390.83,994.1 393.33,994 395.83,993.9 398.33,993.8 400.83,993.7 403.33,993.6 405.83,993.5 408.33,993.5 410.83,993.4 413.33,993.3 415.83,993.2 418.33,993.1 420.83,993.1 423.33,993 425.83,992.9 428.33,992.9 430.83,992.8 433.33,992.7 435.83,992.6 438.33,992.6 440.83,992.5 443.33,992.4 445.83,992.4 448.33,992.3 450.83,992.3 453.33,992.2 455.83,992.1 458.33,992.1 460.83,992 463.33,991.9 465.83,991.9 468.33,991.8 470.83,991.8 473.33,991.7 475.83,991.6 478.33,991.6 480.83,991.5 483.33,991.5 485.83,991.4 488.33,991.4 490.83,991.3 493.33,991.3 495.83,991.2 498.33,991.2 500.83,991.1 503.33,991 505.83,991 508.33,990.9 510.83,990.9 513.33,990.8 515.83,990.8 518.33,990.7 520.83,990.7 523.33,990.6 525.83,990.6 528.33,990.5 530.83,990.5 533.33,990.4 535.83,990.4 538.33,990.3 540.83,990.3 543.33,990.2 545.83,990.2 548.33,990.1 550.83,990.1 553.33,990 555.83,990 558.33,989.9 560.83,989.9 563.33,989.9 565.83,989.8 568.33,989.8 570.83,989.7 573.33,989.7 575.83,989.6 578.33,989.6 580.83,989.5 583.33,989.5 585.83,989.5 588.33,989.4 590.83,989.4 593.33,989.3 595.83,989.3 598.33,989.2 600.83,989.2 603.33,989.2 605.83,989.1 608.33,989.1 610.83,989 613.33,989 615.83,989 618.33,988.9 620.83,988.9 623.33,988.8 625.83,988.8 628.33,988.8 630.83,988.7 633.33,988.7 635.83,988.7 638.33,988.6 640.83,988.6 643.33,988.5 645.83,988.5 648.33,988.5 650.83,988.4 653.33,988.4 655.83,988.4 658.33,988.3 660.83,988.3 663.33,988.3 665.83,988.2 668.33,988.2 670.83,988.1 673.33,988.1 675.83,988.1 678.33,988 680.83,988 683.33,988 685.83,987.9 688.33,987.9 690.83,987.9 693.33,987.8 695.83,987.8 698.33,987.8 700.83,987.7 703.33,987.7 705.83,987.7 708.33,987.6 710.83,987.6 713.33,987.6 715.83,987.5 718.33,987.5 720.83,987.5 723.33,987.4 725.83,987.4 728.33,987.4 730.83,987.3 733.33,987.3 735.83,987.3 738.33,987.2 740.83,987.2 743.33,987.2 745.83,987.1 748.33,987.1 750.83,987.1 753.33,987 755.83,987 758.33,987 760.83,986.9 763.33,986.9 765.83,986.9 768.33,986.8 770.83,986.8 773.33,986.8 775.83,986.7 778.33,986.7 780.83,986.6 783.33,986.6 785.83,986.6 788.33,986.5 790.83,986.5 793.33,986.5 795.83,986.4 798.33,986.4 800.83,986.3 803.33,986.3 805.83,986.3 808.33,986.2 810.83,986.2 813.33,986.1 815.83,986.1 818.33,986.1 820.83,986 823.33,986 825.83,985.9 828.33,985.9 830.83,985.9 833.33,985.8 835.83,985.8 838.33,985.7 840.83,985.7 843.33,985.7 845.83,985.6 848.33,985.6 850.83,985.5 853.33,985.5 855.83,985.4 858.33,985.4 860.83,985.4 863.33,985.3 865.83,985.3 868.33,985.2 870.83,985.2 873.33,985.1 875.83,985.1 878.33,985 880.83,985 883.33,984.9 885.83,984.9 888.33,984.8 890.83,984.8 893.33,984.7 895.83,984.7 898.33,984.7 900.83,984.6 903.33,984.6 905.83,984.5 908.33,984.4 910.83,984.4 913.33,984.3 915.83,984.3 918.33,984.2 920.83,984.2 923.33,984.1 925.83,984.1 928.33,984 930.83,984 933.33,983.9 935.83,983.9 938.33,983.8 940.83,983.7 943.33,983.7 945.83,983.6 948.33,983.6 950.83,983.5 953.33,983.5 955.83,983.4 958.33,983.3 960.83,983.3 963.33,983.2 965.83,983.2 968.33,983.1 970.83,983 973.33,983 975.83,982.9 978.33,982.8 980.83,982.8 983.33,982.7 985.83,982.6 988.33,982.6 990.83,982.5 993.33,982.4 995.83,982.4 998.33,982.3 1000.83,982.2 1003.33,982.2 1005.83,982.1 1008.33,982 1010.83,981.9 1013.33,981.9 1015.83,981.8 1018.33,981.7 1020.83,981.6 1023.33,981.5 1025.83,981.5 1028.33,981.4 1030.83,981.3 1033.33,981.2 1035.83,981.1 1038.33,981.1 1040.83,981 1043.33,980.9 1045.83,980.8 1048.33,980.7 1050.83,980.6 1053.33,980.5 1055.83,980.4 1058.33,980.3 1060.83,980.2 1063.33,980.1 1065.83,980 1068.33,979.9 1070.83,979.8 1073.33,979.7 1075.83,979.6 1078.33,979.5 1080.83,979.4 1083.33,979.3 1085.83,979 1088.33,978.8 1090.83,978.6 1093.33,978.3 1095.83,978.1 1098.33,977.8 1100.83,977.4 1103.33,976.8 1105.83,976.2 1108.33,975.5 1110.83,974.7 1113.33,973.9 1115.83,972.9 1118.33,971.8 1120.83,970.5 1123.33,968.9 1125.83,966.9 1128.33,964.8 1130.83,962.2 1133.33,959.3 1135.83,956.1 1138.33,952.6 1140.83,948.8 1143.33,944.8 1145.83,940.5 1148.33,936.1 1150.83,931.5 1153.33,926.7 1155.83,921.9 1158.33,916.9 1160.83,911.9 1163.33,906.8 1165.83,901.6 1168.33,896.4 1170.83,891.2 1173.33,885.9 1175.83,880.7 1178.33,875.4 1180.83,870.2 1183.33,864.9 1185.83,859.8 1188.33,854.7 1190.83,849.6 1193.33,844.7 1195.83,839.8 1198.33,835.1 1200.83,830.5 1203.33,826 1205.83,821.6 1208.33,817.2 1210.83,812.9 1213.33,808.6 1215.83,804.2 1218.33,799.9 1220.83,795.5 1223.33,791 1225.83,786.5 1228.33,781.8 1230.83,777 1233.33,772.2 1235.83,767.3 1238.33,762.4 1240.83,757.5 1243.33,752.6 1245.83,747.7 1248.33,742.8 1250.83,738.1 1253.33,733.3 1255.83,728.8 1258.33,724.3 1260.83,720.1 1263.33,716.1 1265.83,712.4 1268.33,709 1270.83,705.8 1273.33,702.8 1275.83,700 1278.33,697.3 1280.83,694.5 1283.33,691.8 1285.83,689.3 1288.33,686.8 1290.83,684.4 1293.33,682.1 1295.83,679.8 1298.33,677.6 1300.83,675.4 1303.33,673.4 1305.83,671.4 1308.33,669.5 1310.83,667.7 1313.33,666 1315.83,664.4 1318.33,662.9 1320.83,661.5 1323.33,660.2 1325.83,659 1328.33,657.9 1330.83,657 1333.33,656.2 1335.83,655.5 1338.33,654.9 1340.83,654.5 1343.33,654.2 1345.83,654.1 1348.33,654.1 1350.83,654.3 1353.33,654.6 1355.83,655 1358.33,655.7 1360.83,656.5 1363.33,657.5 1365.83,658.6 1368.33,659.9 1370.83,661.5 1373.33,663.2 1375.83,665.1 1378.33,667.2 1380.83,669.4 1383.33,671.8 1385.83,674.4 1388.33,677.1 1390.83,679.9 1393.33,682.8 1395.83,685.8 1398.33,688.9 1400.83,692 1403.33,695.2 1405.83,698.5 1408.33,701.7 1410.83,705 1413.33,708.3 1415.83,711.6 1418.33,714.9 1420.83,718.2 1423.33,721.5 1425.83,724.7 1428.33,728 1430.83,731.2 1433.33,734.4 1435.83,737.5 1438.33,740.6 1440.83,743.6 1443.33,746.6 1445.83,749.5 1448.33,752.4 1450.83,755.2 1453.33,757.9 1455.83,760.5 1458.33,763 1460.83,765.4 1463.33,767.7 1465.83,769.9 1468.33,772 1470.83,774 1473.33,775.8 1475.83,777.5 1478.33,779.1 1480.83,780.5 1483.33,781.8 1485.83,782.9 1488.33,783.8 1490.83,784.6 1493.33,785.2 1495.83,785.7 1498.33,785.9 1500.83,786 1503.33,785.9 1505.83,785.7 1508.33,785.3 1510.83,784.7 1513.33,783.9 1515.83,783 1518.33,781.9 1520.83,780.7 1523.33,779.3 1525.83,777.7 1528.33,776 1530.83,774.1 1533.33,772 1535.83,769.8 1538.33,767.4 1540.83,764.7 1543.33,761.9 1545.83,758.8 1548.33,755.6 1550.83,752.1 1553.33,748.6 1555.83,744.9 1558.33,741.1 1560.83,737.3 1563.33,733.5 1565.83,729.6 1568.33,725.9 1570.83,722.1 1573.33,718.4 1575.83,714.7 1578.33,711 1580.83,707.4 1583.33,703.7 1585.83,700.1 1588.33,696.4 1590.83,692.7 1593.33,689 1595.83,685.3 1598.33,681.5 1600.83,677.7 1603.33,673.9 1605.83,670.1 1608.33,666.3 1610.83,662.4 1613.33,658.5 1615.83,654.6 1618.33,650.6 1620.83,646.6 1623.33,642.6 1625.83,638.6 1628.33,634.5 1630.83,630.4 1633.33,626.3 1635.83,622.1 1638.33,618 1640.83,613.7 1643.33,609.5 1645.83,605.2 1648.33,600.9 1650.83,596.5 1653.33,592.1 1655.83,587.7 1658.33,583.3 1660.83,578.8 1663.33,574.3 1665.83,569.7 1668.33,565.1 1670.83,560.5 1673.33,555.8 1675.83,551.1 1678.33,546.3 1680.83,541.5 1683.33,536.7 1685.83,531.8 1688.33,526.9 1690.83,521.9 1693.33,516.9 1690.83,524 1688.33,530.8 1685.83,537.4 1683.33,543.9 1680.83,550.2 1678.33,556.4 1675.83,562.4 1673.33,568.3 1670.83,574.1 1668.33,579.8 1665.83,585.3 1663.33,590.8 1660.83,596.1 1658.33,601.4 1655.83,606.6 1653.33,611.7 1650.83,616.8 1648.33,621.8 1645.83,626.8 1643.33,631.7 1640.83,636.6 1638.33,641.4 1635.83,646.3 1633.33,651.1 1630.83,656 1628.33,660.8 1625.83,665.6 1623.33,670.4 1620.83,675.2 1618.33,679.9 1615.83,684.7 1613.33,689.4 1610.83,694.2 1608.33,698.9 1605.83,703.6 1603.33,708.3 1600.83,712.9 1598.33,717.6 1595.83,722.2 1593.33,726.9 1590.83,731.5 1588.33,736.1 1585.83,740.6 1583.33,745.2 1580.83,749.7 1578.33,754.3 1575.83,758.8 1573.33,763.2 1570.83,767.7 1568.33,772.2 1565.83,776.6 1563.33,781 1560.83,785.4 1558.33,789.7 1555.83,794.1 1553.33,798.4 1550.83,802.7 1548.33,807 1545.83,811.2 1543.33,815.4 1540.83,819.6 1538.33,823.8 1535.83,827.9 1533.33,832 1530.83,836.1 1528.33,840.2 1525.83,844.2 1523.33,848.2 1520.83,852.2 1518.33,856.1 1515.83,860 1513.33,863.9 1510.83,867.8 1508.33,871.6 1505.83,875.4 1503.33,879.1 1500.83,882.8 1498.33,886.5 1495.83,890.2 1493.33,893.8 1490.83,897.3 1488.33,900.9 1485.83,904.4 1483.33,907.8 1480.83,911.3 1478.33,914.6 1475.83,918 1473.33,921.3 1470.83,924.6 1468.33,927.8 1465.83,931 1463.33,934.1 1460.83,937.2 1458.33,940.3 1455.83,943.3 1453.33,946.2 1450.83,949.2 1448.33,952 1445.83,954.9 1443.33,957.7 1440.83,960.4 1438.33,963.1 1435.83,965.7 1433.33,968.3 1430.83,970.9 1428.33,973.4 1425.83,975.8 1423.33,978.2 1420.83,980.6 1418.33,982.9 1415.83,985.2 1413.33,987.4 1410.83,989.6 1408.33,991.7 1405.83,993.8 1403.33,995.9 1400.83,997.9 1398.33,999.9 1395.83,1001.8 1393.33,1003.7 1390.83,1005.6 1388.33,1007.4 1385.83,1009.2 1383.33,1010.9 1380.83,1012.7 1378.33,1014.3 1375.83,1016 1373.33,1017.6 1370.83,1019.2 1368.33,1020.7 1365.83,1022.3 1363.33,1023.7 1360.83,1025.2 1358.33,1026.6 1355.83,1028 1353.33,1029.4 1350.83,1030.8 1348.33,1032.1 1345.83,1033.4 1343.33,1034.7 1340.83,1035.9 1338.33,1037.1 1335.83,1038.3 1333.33,1039.5 1330.83,1040.7 1328.33,1041.8 1325.83,1042.9 1323.33,1044 1320.83,1045.1 1318.33,1046.2 1315.83,1047.2 1313.33,1048.3 1310.83,1049.3 1308.33,1050.3 1305.83,1051.3 1303.33,1052.2 1300.83,1053.2 1298.33,1054.1 1295.83,1055.1 1293.33,1056 1290.83,1056.9 1288.33,1057.8 1285.83,1058.7 1283.33,1059.6 1280.83,1060.5 1278.33,1061.3 1275.83,1062.2 1273.33,1063.1 1270.83,1063.9 1268.33,1064.8 1265.83,1065.6 1263.33,1066.5 1260.83,1067.3 1258.33,1068.2 1255.83,1069 1253.33,1069.9 1250.83,1070.7 1248.33,1071.6 1245.83,1072.4 1243.33,1073.3 1240.83,1074.1 1238.33,1075 1235.83,1075.8 1233.33,1076.7 1230.83,1077.6 1228.33,1078.5 1225.83,1079.4 1223.33,1080.3 1220.83,1081.2 1218.33,1082.1 1215.83,1083 1213.33,1083.9 1210.83,1084.9 1208.33,1085.9 1205.83,1086.8 1203.33,1087.8 1200.83,1088.8 1198.33,1089.9 1195.83,1090.9 1193.33,1092 1190.83,1093 1188.33,1094.1 1185.83,1095.2 1183.33,1096.4 1180.83,1097.5 1178.33,1098.7 1175.83,1099.9 1173.33,1101.1 1170.83,1102.3 1168.33,1103.6 1165.83,1104.9 1163.33,1106.2 1160.83,1107.5 1158.33,1108.9 1155.83,1110.2 1153.33,1111.6 1150.83,1113.1 1148.33,1114.5 1145.83,1115.9 1143.33,1117.4 1140.83,1118.9 1138.33,1120.4 1135.83,1121.9 1133.33,1123.4 1130.83,1125 1128.33,1126.5 1125.83,1128.1 1123.33,1129.7 1120.83,1131.3 1118.33,1132.8 1115.83,1134.4 1113.33,1136 1110.83,1137.6 1108.33,1139.2 1105.83,1140.9 1103.33,1142.5 1100.83,1144.1 1098.33,1145.7 1095.83,1147.3 1093.33,1148.9 1090.83,1150.5 1088.33,1152.1 1085.83,1153.7 1083.33,1155.3 1080.83,1156.9 1078.33,1158.5 1075.83,1160.1 1073.33,1161.6 1070.83,1163.2 1068.33,1164.7 1065.83,1166.2 1063.33,1167.7 1060.83,1169.2 1058.33,1170.7 1055.83,1172.2 1053.33,1173.6 1050.83,1175.1 1048.33,1176.5 1045.83,1177.9 1043.33,1179.2 1040.83,1180.6 1038.33,1181.9 1035.83,1183.2 1033.33,1184.5 1030.83,1185.7 1028.33,1187 1025.83,1188.2 1023.33,1189.3 1020.83,1190.5 1018.33,1191.6 1015.83,1192.7 1013.33,1193.8 1010.83,1194.8 1008.33,1195.8 1005.83,1196.8 1003.33,1197.7 1000.83,1198.6 998.33,1199.5 995.83,1200.4 993.33,1201.2 990.83,1202 988.33,1202.8 985.83,1203.5 983.33,1204.2 980.83,1204.9 978.33,1205.5 975.83,1206.1 973.33,1206.7 970.83,1207.2 968.33,1207.7 965.83,1208.2 963.33,1208.6 960.83,1208.9 958.33,1209.2 955.83,1209.4 953.33,1209.5 950.83,1209.5 948.33,1209.4 945.83,1209.2 943.33,1208.9 940.83,1208.5 938.33,1207.9 935.83,1207.2 933.33,1206.3 930.83,1205.3 928.33,1204.1 925.83,1202.7 923.33,1201.2 920.83,1199.4 918.33,1197.3 915.83,1195 913.33,1192.4 910.83,1189.5 908.33,1186.2 905.83,1182.6 903.33,1178.6 900.83,1174.3 898.33,1169.5 895.83,1164.3 893.33,1158.6 890.83,1152.4 888.33,1145.8 885.83,1139 883.33,1132.2 880.83,1125.3 878.33,1118.4 875.83,1111.4 873.33,1104.4 870.83,1097.5 868.33,1091.1 865.83,1085.2 863.33,1079.9 860.83,1075.1 858.33,1070.8 855.83,1066.9 853.33,1063.4 850.83,1060.1 848.33,1057.2 845.83,1054.4 843.33,1051.9 840.83,1049.7 838.33,1047.6 835.83,1045.7 833.33,1044 830.83,1042.5 828.33,1041.1 825.83,1039.8 823.33,1038.7 820.83,1037.7 818.33,1036.8 815.83,1035.9 813.33,1035.1 810.83,1034.4 808.33,1033.7 805.83,1033.1 803.33,1032.4 800.83,1031.8 798.33,1031.1 795.83,1030.5 793.33,1029.8 790.83,1029 788.33,1028.3 785.83,1027.5 783.33,1026.7 780.83,1025.8 778.33,1025 775.83,1024.2 773.33,1023.4 770.83,1022.7 768.33,1022.1 765.83,1021.5 763.33,1021 760.83,1020.5 758.33,1020 755.83,1019.6 753.33,1019.2 750.83,1018.9 748.33,1018.5 745.83,1018.2 743.33,1017.8 740.83,1017.5 738.33,1017.1 735.83,1016.8 733.33,1016.5 730.83,1016.2 728.33,1015.9 725.83,1015.6 723.33,1015.4 720.83,1015.1 718.33,1014.8 715.83,1014.6 713.33,1014.4 710.83,1014.1 708.33,1013.9 705.83,1013.7 703.33,1013.5 700.83,1013.3 698.33,1013.1 695.83,1012.9 693.33,1012.7 690.83,1012.5 688.33,1012.4 685.83,1012.2 683.33,1012 680.83,1011.9 678.33,1011.8 675.83,1011.6 673.33,1011.5 670.83,1011.4 668.33,1011.2 665.83,1011.1 663.33,1011 660.83,1010.9 658.33,1010.8 655.83,1010.7 653.33,1010.6 650.83,1010.5 648.33,1010.5 645.83,1010.4 643.33,1010.3 640.83,1010.2 638.33,1010 635.83,1009.9 633.33,1009.7 630.83,1009.6 628.33,1009.4 625.83,1009.3 623.33,1009.1 620.83,1009 618.33,1008.8 615.83,1008.7 613.33,1008.6 610.83,1008.5 608.33,1008.3 605.83,1008.2 603.33,1008.1 600.83,1008 598.33,1007.9 595.83,1007.8 593.33,1007.6 590.83,1007.5 588.33,1007.4 585.83,1007.3 583.33,1007.2 580.83,1007.1 578.33,1007 575.83,1007 573.33,1006.9 570.83,1006.8 568.33,1006.7 565.83,1006.6 563.33,1006.5 560.83,1006.5 558.33,1006.4 555.83,1006.3 553.33,1006.2 550.83,1006.2 548.33,1006.1 545.83,1006 543.33,1006 540.83,1005.9 538.33,1005.9 535.83,1005.8 533.33,1005.7 530.83,1005.7 528.33,1005.6 525.83,1005.6 523.33,1005.5 520.83,1005.5 518.33,1005.4 515.83,1005.4 513.33,1005.3 510.83,1005.3 508.33,1005.2 505.83,1005.2 503.33,1005.1 500.83,1005.1 498.33,1005 495.83,1005 493.33,1004.9 490.83,1004.9 488.33,1004.8 485.83,1004.8 483.33,1004.7 480.83,1004.7 478.33,1004.7 475.83,1004.6 473.33,1004.6 470.83,1004.5 468.33,1004.5 465.83,1004.5 463.33,1004.4 460.83,1004.4 458.33,1004.3 455.83,1004.3 453.33,1004.3 450.83,1004.2 448.33,1004.2 445.83,1004.2 443.33,1004.1 440.83,1004.1 438.33,1004.1 435.83,1004 433.33,1004 430.83,1003.9 428.33,1003.9 425.83,1003.9 423.33,1003.8 420.83,1003.8 418.33,1003.8 415.83,1003.7 413.33,1003.7 410.83,1003.7 408.33,1003.6 405.83,1003.6 403.33,1003.5 400.83,1003.5 398.33,1003.5 395.83,1003.4 393.33,1003.4 390.83,1003.3 388.33,1003.3 385.83,1003.3 383.33,1003.2 380.83,1003.2 378.33,1003.1 375.83,1003.1 373.33,1003 370.83,1003 368.33,1002.9 365.83,1002.9 363.33,1002.8 360.83,1002.8 358.33,1002.7 355.83,1002.7 353.33,1002.6 350.83,1002.5 348.33,1002.5 345.83,1002.4 343.33,1002.4 340.83,1002.3 338.33,1002.2 335.83,1002.2 333.33,1002.1 330.83,1002 328.33,1001.9 325.83,1001.9 323.33,1001.8 320.83,1001.7 318.33,1001.6 315.83,1001.5 313.33,1001.5 310.83,1001.4 308.33,1001.3 305.83,1001.2 303.33,1001.1 300.83,1001 298.33,1000.9 295.83,1000.8 293.33,1000.7 290.83,1000.6 288.33,1000.5"/>
<path stroke="#ff00ff" d="M288.33,999.3 290.83,999.2 293.33,999.1 295.83,998.9 298.33,998.8 300.83,998.7 303.33,998.6 305.83,998.5 308.33,998.3 310.83,998.2 313.33,998.1 315.83,998 318.33,997.9 320.83,997.8 323.33,997.7 325.83,997.5 328.33,997.4 330.83,997.3 333.33,997.2 335.83,997.1 338.33,997 340.83,996.9 343.33,996.8 345.83,996.7 348.33,996.6 350.83,996.5 353.33,996.4 355.83,996.3 358.33,996.2 360.83,996.1 363.33,996 365.83,995.9 368.33,995.8 370.83,995.7 373.33,995.6 375.83,995.5 378.33,995.4 380.83,995.3 383.33,995.2 385.83,995.2 388.33,995.1 390.83,995 393.33,994.9 395.83,994.8 398.33,994.7 400.83,994.6 403.33,994.5 405.83,994.5 408.33,994.4 410.83,994.3 413.33,994.2 415.83,994.1 418.33,994.1 420.83,994 423.33,993.9 425.83,993.8 428.33,993.7 430.83,993.7 433.33,993.6 435.83,993.5 438.33,993.4 440.83,993.4 443.33,993.3 445.83,993.2 448.33,993.1 450.83,993.1 453.33,993 455.83,992.9 458.33,992.9 460.83,992.8 463.33,992.7 465.83,992.7 468.33,992.6 470.83,992.5 473.33,992.5 475.83,992.4 478.33,992.3 480.83,992.3 483.33,992.2 485.83,992.1 488.33,992.1 490.83,992 493.33,991.9 495.83,991.9 498.33,991.8 500.83,991.8 503.33,991.7 505.83,991.6 508.33,991.6 510.83,991.5 513.33,991.5 515.83,991.4 518.33,991.4 520.83,991.3 523.33,991.2 525.83,991.2 528.33,991.1 530.83,991.1 533.33,991 535.83,991 538.33,990.9 540.83,990.9 543.33,990.8 545.83,990.8 548.33,990.7 550.83,990.7 553.33,990.6 555.83,990.6 558.33,990.5 560.83,990.5 563.33,990.4 565.83,990.4 568.33,990.3 570.83,990.3 573.33,990.2 575.83,990.2 578.33,990.1 580.83,990.1 583.33,990 585.83,990 588.33,989.9 590.83,989.9 593.33,989.8 595.83,989.8 598.33,989.8 600.83,989.7 603.33,989.7 605.83,989.6 608.33,989.6 610.83,989.5 613.33,989.5 615.83,989.5 618.33,989.4 620.83,989.4 623.33,989.3 625.83,989.3 628.33,989.3 630.83,989.2 633.33,989.2 635.83,989.1 638.33,989.1 640.83,989 643.33,989 645.83,989 648.33,988.9 650.83,988.9 653.33,988.9 655.83,988.8 658.33,988.8 660.83,988.7 663.33,988.7 665.83,988.7 668.33,988.6 670.83,988.6 673.33,988.5 675.83,988.5 678.33,988.5 680.83,988.4 683.33,988.4 685.83,988.4 688.33,988.3 690.83,988.3 693.33,988.2 695.83,988.2 698.33,988.2 700.83,988.1 703.33,988.1 705.83,988.1 708.33,988 710.83,988 713.33,988 715.83,987.9 718.33,987.9 720.83,987.8 723.33,987.8 725.83,987.8 728.33,987.7 730.83,987.7 733.33,987.7 735.83,987.6 738.33,987.6 740.83,987.5 743.33,987.5 745.83,987.5 748.33,987.4 750.83,987.4 753.33,987.4 755.83,987.3 758.33,987.3 760.83,987.3 763.33,987.2 765.83,987.2 768.33,987.1 770.83,987.1 773.33,987.1 775.83,987 778.33,987 780.83,987 783.33,986.9 785.83,986.9 788.33,986.8 790.83,986.8 793.33,986.8 795.83,986.7 798.33,986.7 800.83,986.6 803.33,986.6 805.83,986.6 808.33,986.5 810.83,986.5 813.33,986.5 815.83,986.4 818.33,986.4 820.83,986.3 823.33,986.3 825.83,986.2 828.33,986.2 830.83,986.2 833.33,986.1 835.83,986.1 838.33,986 840.83,986 843.33,986 845.83,985.9 848.33,985.9 850.83,985.8 853.33,985.8 855.83,985.7 858.33,985.7 860.83,985.7 863.33,985.6 865.83,985.6 868.33,985.5 870.83,985.5 873.33,985.4 875.83,985.4 878.33,985.3 880.83,985.3 883.33,985.2 885.83,985.2 888.33,985.1 890.83,985.1 893.33,985 895.83,985 898.33,984.9 900.83,984.9 903.33,984.8 905.83,984.8 908.33,984.7 910.83,984.7 913.33,984.6 915.83,984.6 918.33,984.5 920.83,984.5 923.33,984.4 925.83,984.4 928.33,984.3 930.83,984.3 933.33,984.2 935.83,984.1 938.33,984.1 940.83,984 943.33,984 945.83,983.9 948.33,983.9 950.83,983.8 953.33,983.7 955.83,983.7 958.33,983.6 960.83,983.6 963.33,983.5 965.83,983.4 968.33,983.4 970.83,983.3 973.33,983.2 975.83,983.2 978.33,983.1 980.83,983.1 983.33,983 985.83,982.9 988.33,982.9 990.83,982.8 993.33,982.7 995.83,982.6 998.33,982.6 1000.83,982.5 1003.33,982.4 1005.83,982.4 1008.33,982.3 1010.83,982.2 1013.33,982.1 1015.83,982.1 1018.33,982 1020.83,981.9 1023.33,981.8 1025.83,981.8 1028.33,981.7 1030.83,981.6 1033.33,981.5 1035.83,981.4 1038.33,981.4 1040.83,981.3 1043.33,981.2 1045.83,981.1 1048.33,981 1050.83,980.9 1053.33,980.8 1055.83,980.7 1058.33,980.6 1060.83,980.5 1063.33,980.4 1065.83,980.3 1068.33,980.2 1070.83,980.1 1073.33,980 1075.83,979.9 1078.33,979.8 1080.83,979.7 1083.33,979.6 1085.83,979.5 1088.33,979.3 1090.83,979.2 1093.33,979.1 1095.83,979 1098.33,978.8 1100.83,978.6 1103.33,978.3 1105.83,978 1108.33,977.6 1110.83,977.1 1113.33,976.5 1115.83,975.8 1118.33,974.9 1120.83,973.8 1123.33,972.4 1125.83,970.6 1128.33,968.5 1130.83,966 1133.33,963.2 1135.83,960 1138.33,956.5 1140.83,952.8 1143.33,948.8 1145.83,944.6 1148.33,940.2 1150.83,935.6 1153.33,930.9 1155.83,926.1 1158.33,921.2 1160.83,916.2 1163.33,911.2 1165.83,906.1 1168.33,900.9 1170.83,895.7 1173.33,890.5 1175.83,885.3 1178.33,880.1 1180.83,874.9 1183.33,869.8 1185.83,864.7 1188.33,859.7 1190.83,854.7 1193.33,849.8 1195.83,845 1198.33,840.3 1200.83,835.8 1203.33,831.3 1205.83,826.9 1208.33,822.6 1210.83,818.3 1213.33,814.1 1215.83,809.8 1218.33,805.5 1220.83,801.2 1223.33,796.7 1225.83,792.2 1228.33,787.6 1230.83,782.9 1233.33,778.1 1235.83,773.3 1238.33,768.4 1240.83,763.5 1243.33,758.7 1245.83,753.8 1248.33,749 1250.83,744.2 1253.33,739.5 1255.83,734.9 1258.33,730.4 1260.83,726 1263.33,721.7 1265.83,717.6 1268.33,713.6 1270.83,709.6 1273.33,705.8 1275.83,702.1 1278.33,698.4 1280.83,694.9 1283.33,691.4 1285.83,687.9 1288.33,684.6 1290.83,681.3 1293.33,678.1 1295.83,674.9 1298.33,671.9 1300.83,668.9 1303.33,666 1305.83,663.2 1308.33,660.5 1310.83,657.9 1313.33,655.4 1315.83,653 1318.33,650.7 1320.83,648.5 1323.33,646.4 1325.83,644.4 1328.33,642.6 1330.83,640.8 1333.33,639.2 1335.83,637.8 1338.33,636.4 1340.83,635.2 1343.33,634.1 1345.83,633.2 1348.33,632.4 1350.83,631.7 1353.33,631.2 1355.83,630.9 1358.33,630.7 1360.83,630.7 1363.33,630.8 1365.83,631.1 1368.33,631.6 1370.83,632.2 1373.33,633.1 1375.83,634 1378.33,635.2 1380.83,636.6 1383.33,638.1 1385.83,639.8 1388.33,641.7 1390.83,643.7 1393.33,645.8 1395.83,648.1 1398.33,650.5 1400.83,653.1 1403.33,655.8 1405.83,658.6 1408.33,661.5 1410.83,664.5 1413.33,667.6 1415.83,670.7 1418.33,674 1420.83,677.4 1423.33,680.8 1425.83,684.3 1428.33,687.8 1430.83,691.4 1433.33,695 1435.83,698.7 1438.33,702.3 1440.83,706 1443.33,709.6 1445.83,713.3 1448.33,716.9 1450.83,720.4 1453.33,723.9 1455.83,727.4 1458.33,730.8 1460.83,734 1463.33,737.2 1465.83,740.3 1468.33,743.2 1470.83,746 1473.33,748.7 1475.83,751.2 1478.33,753.5 1480.83,755.7 1483.33,757.7 1485.83,759.5 1488.33,761.1 1490.83,762.6 1493.33,763.9 1495.83,765.1 1498.33,766.1 1500.83,766.9 1503.33,767.5 1505.83,768 1508.33,768.4 1510.83,768.5 1513.33,768.6 1515.83,768.4 1518.33,768.1 1520.83,767.7 1523.33,767 1525.83,766.3 1528.33,765.4 1530.83,764.3 1533.33,763.1 1535.83,761.7 1538.33,760.2 1540.83,758.5 1543.33,756.6 1545.83,754.5 1548.33,752.2 1550.83,749.8 1553.33,747.3 1555.83,744.6 1558.33,741.8 1560.83,738.9 1563.33,735.9 1565.83,732.8 1568.33,729.6 1570.83,726.3 1573.33,723 1575.83,719.5 1578.33,716 1580.83,712.4 1583.33,708.8 1585.83,705.1 1588.33,701.4 1590.83,697.6 1593.33,693.9 1595.83,690.3 1598.33,686.7 1600.83,683 1603.33,679.3 1605.83,675.6 1608.33,671.9 1610.83,668.2 1613.33,664.5 1615.83,660.8 1618.33,657.1 1620.83,653.4 1623.33,649.6 1625.83,645.9 1628.33,642.2 1630.83,638.5 1633.33,634.7 1635.83,630.9 1638.33,627 1640.83,622.9 1643.33,618.6 1645.83,614.1 1648.33,609.5 1650.83,604.7 1653.33,599.8 1655.83,594.8 1658.33,589.7 1660.83,584.6 1663.33,579.4 1665.83,574.3 1668.33,569.2 1670.83,564.1 1673.33,559.1 1675.83,554.3 1678.33,549.5 1680.83,544.9 1683.33,540.4 1685.83,536.2 1688.33,532.2 1690.83,528.4 1693.33,525 1690.83,532.9 1688.33,540.5 1685.83,547.7 1683.33,554.6 1680.83,561.2 1678.33,567.5 1675.83,573.6 1673.33,579.5 1670.83,585.2 1668.33,590.7 1665.83,596 1663.33,601.2 1660.83,606.3 1658.33,611.3 1655.83,616.3 1653.33,621.2 1650.83,626.1 1648.33,631 1645.83,635.8 1643.33,640.7 1640.83,645.6 1638.33,650.4 1635.83,655.2 1633.33,660.1 1630.83,664.9 1628.33,669.7 1625.83,674.4 1623.33,679.2 1620.83,683.9 1618.33,688.7 1615.83,693.4 1613.33,698.1 1610.83,702.8 1608.33,707.5 1605.83,712.2 1603.33,716.8 1600.83,721.4 1598.33,726.1 1595.83,730.7 1593.33,735.3 1590.83,739.9 1588.33,744.6 1585.83,749.3 1583.33,754 1580.83,758.6 1578.33,763.2 1575.83,767.8 1573.33,772.4 1570.83,777 1568.33,781.5 1565.83,786 1563.33,790.4 1560.83,794.9 1558.33,799.3 1555.83,803.6 1553.33,808 1550.83,812.3 1548.33,816.6 1545.83,820.8 1543.33,825 1540.83,829.2 1538.33,833.3 1535.83,837.3 1533.33,841.3 1530.83,845.2 1528.33,849.2 1525.83,853.1 1523.33,857 1520.83,860.8 1518.33,864.6 1515.83,868.4 1513.33,872.2 1510.83,875.9 1508.33,879.6 1505.83,883.3 1503.33,886.9 1500.83,890.5 1498.33,894 1495.83,897.6 1493.33,901.1 1490.83,904.5 1488.33,907.9 1485.83,911.3 1483.33,914.7 1480.83,918 1478.33,921.2 1475.83,924.5 1473.33,927.7 1470.83,930.8 1468.33,933.9 1465.83,937 1463.33,940 1460.83,943 1458.33,946 1455.83,948.9 1453.33,951.7 1450.83,954.5 1448.33,957.3 1445.83,960.1 1443.33,962.7 1440.83,965.4 1438.33,968 1435.83,970.5 1433.33,973 1430.83,975.5 1428.33,977.9 1425.83,980.3 1423.33,982.6 1420.83,984.8 1418.33,987.1 1415.83,989.3 1413.33,991.4 1410.83,993.5 1408.33,995.6 1405.83,997.6 1403.33,999.6 1400.83,1001.5 1398.33,1003.4 1395.83,1005.3 1393.33,1007.1 1390.83,1008.9 1388.33,1010.7 1385.83,1012.4 1383.33,1014.1 1380.83,1015.7 1378.33,1017.4 1375.83,1019 1373.33,1020.5 1370.83,1022.1 1368.33,1023.5 1365.83,1025 1363.33,1026.5 1360.83,1027.9 1358.33,1029.3 1355.83,1030.6 1353.33,1031.9 1350.83,1033.3 1348.33,1034.5 1345.83,1035.8 1343.33,1037 1340.83,1038.2 1338.33,1039.4 1335.83,1040.6 1333.33,1041.7 1330.83,1042.9 1328.33,1044 1325.83,1045.1 1323.33,1046.1 1320.83,1047.2 1318.33,1048.2 1315.83,1049.3 1313.33,1050.3 1310.83,1051.3 1308.33,1052.2 1305.83,1053.2 1303.33,1054.2 1300.83,1055.1 1298.33,1056 1295.83,1057 1293.33,1057.9 1290.83,1058.8 1288.33,1059.7 1285.83,1060.5 1283.33,1061.4 1280.83,1062.3 1278.33,1063.2 1275.83,1064 1273.33,1064.9 1270.83,1065.7 1268.33,1066.6 1265.83,1067.4 1263.33,1068.3 1260.83,1069.1 1258.33,1070 1255.83,1070.8 1253.33,1071.7 1250.83,1072.5 1248.33,1073.4 1245.83,1074.2 1243.33,1075.1 1240.83,1075.9 1238.33,1076.8 1235.83,1077.7 1233.33,1078.5 1230.83,1079.4 1228.33,1080.3 1225.83,1081.2 1223.33,1082.1 1220.83,1083.1 1218.33,1084 1215.83,1084.9 1213.33,1085.9 1210.83,1086.9 1208.33,1087.8 1205.83,1088.8 1203.33,1089.8 1200.83,1090.9 1198.33,1091.9 1195.83,1092.9 1193.33,1094 1190.83,1095.1 1188.33,1096.2 1185.83,1097.3 1183.33,1098.4 1180.83,1099.5 1178.33,1100.7 1175.83,1101.9 1173.33,1103.1 1170.83,1104.3 1168.33,1105.5 1165.83,1106.7 1163.33,1108 1160.83,1109.3 1158.33,1110.6 1155.83,1111.9 1153.33,1113.2 1150.83,1114.6 1148.33,1116 1145.83,1117.4 1143.33,1118.8 1140.83,1120.3 1138.33,1121.7 1135.83,1123.2 1133.33,1124.7 1130.83,1126.3 1128.33,1127.8 1125.83,1129.4 1123.33,1131 1120.83,1132.6 1118.33,1134.3 1115.83,1136 1113.33,1137.7 1110.83,1139.4 1108.33,1141.2 1105.83,1142.9 1103.33,1144.7 1100.83,1146.5 1098.33,1148.3 1095.83,1150.1 1093.33,1151.9 1090.83,1153.7 1088.33,1155.5 1085.83,1157.3 1083.33,1159 1080.83,1160.9 1078.33,1162.7 1075.83,1164.4 1073.33,1166.2 1070.83,1167.9 1068.33,1169.7 1065.83,1171.3 1063.33,1173 1060.83,1174.6 1058.33,1176.2 1055.83,1177.7 1053.33,1179.2 1050.83,1180.7 1048.33,1182.2 1045.83,1183.6 1043.33,1185 1040.83,1186.4 1038.33,1187.7 1035.83,1189.1 1033.33,1190.4 1030.83,1191.7 1028.33,1192.9 1025.83,1194.2 1023.33,1195.5 1020.83,1196.7 1018.33,1198 1015.83,1199.2 1013.33,1200.4 1010.83,1201.6 1008.33,1202.8 1005.83,1204 1003.33,1205.2 1000.83,1206.3 998.33,1207.4 995.83,1208.5 993.33,1209.6 990.83,1210.6 988.33,1211.7 985.83,1212.6 983.33,1213.6 980.83,1214.6 978.33,1215.5 975.83,1216.5 973.33,1217.4 970.83,1218.4 968.33,1219.3 965.83,1220.2 963.33,1221.2 960.83,1222.1 958.33,1222.9 955.83,1223.7 953.33,1224.3 950.83,1224.9 948.33,1225.3 945.83,1225.6 943.33,1225.7 940.83,1225.7 938.33,1225.6 935.83,1225.4 933.33,1225.1 930.83,1224.7 928.33,1224.3 925.83,1223.8 923.33,1223.3 920.83,1222.8 918.33,1222.2 915.83,1221.5 913.33,1220.7 910.83,1219.7 908.33,1218.6 905.83,1217.2 903.33,1215.5 900.83,1213.6 898.33,1211.3 895.83,1208.6 893.33,1205.6 890.83,1202.2 888.33,1198.3 885.83,1194 883.33,1189.3 880.83,1184.2 878.33,1178.6 875.83,1172.6 873.33,1166 870.83,1159.1 868.33,1152.1 865.83,1145 863.33,1138.3 860.83,1131.9 858.33,1125.9 855.83,1120.1 853.33,1114.3 850.83,1108.5 848.33,1102.6 845.83,1096.8 843.33,1091.3 840.83,1086.1 838.33,1081.2 835.83,1076.7 833.33,1072.6 830.83,1068.8 828.33,1065.3 825.83,1062.1 823.33,1059.2 820.83,1056.7 818.33,1054.3 815.83,1052.2 813.33,1050.3 810.83,1048.5 808.33,1046.9 805.83,1045.4 803.33,1044 800.83,1042.6 798.33,1041.3 795.83,1040 793.33,1038.8 790.83,1037.7 788.33,1036.6 785.83,1035.7 783.33,1034.8 780.83,1034 778.33,1033.3 775.83,1032.7 773.33,1032.1 770.83,1031.5 768.33,1030.9 765.83,1030.4 763.33,1029.8 760.83,1029.3 758.33,1028.8 755.83,1028.3 753.33,1027.8 750.83,1027.3 748.33,1026.8 745.83,1026.4 743.33,1025.9 740.83,1025.5 738.33,1025.1 735.83,1024.6 733.33,1024.2 730.83,1023.8 728.33,1023.4 725.83,1023 723.33,1022.7 720.83,1022.3 718.33,1021.9 715.83,1021.6 713.33,1021.2 710.83,1020.9 708.33,1020.6 705.83,1020.2 703.33,1019.9 700.83,1019.6 698.33,1019.3 695.83,1019 693.33,1018.7 690.83,1018.4 688.33,1018.1 685.83,1017.9 683.33,1017.6 680.83,1017.3 678.33,1017.1 675.83,1016.8 673.33,1016.6 670.83,1016.3 668.33,1016.1 665.83,1015.9 663.33,1015.6 660.83,1015.4 658.33,1015.2 655.83,1015 653.33,1014.8 650.83,1014.6 648.33,1014.4 645.83,1014.2 643.33,1014 640.83,1013.8 638.33,1013.6 635.83,1013.4 633.33,1013.3 630.83,1013.1 628.33,1012.9 625.83,1012.7 623.33,1012.6 620.83,1012.4 618.33,1012.2 615.83,1012.1 613.33,1011.9 610.83,1011.8 608.33,1011.6 605.83,1011.5 603.33,1011.3 600.83,1011.2 598.33,1011.1 595.83,1010.9 593.33,1010.8 590.83,1010.7 588.33,1010.5 585.83,1010.4 583.33,1010.3 580.83,1010.2 578.33,1010 575.83,1009.9 573.33,1009.8 570.83,1009.7 568.33,1009.6 565.83,1009.5 563.33,1009.4 560.83,1009.2 558.33,1009.1 555.83,1009 553.33,1008.9 550.83,1008.8 548.33,1008.8 545.83,1008.7 543.33,1008.6 540.83,1008.5 538.33,1008.4 535.83,1008.3 533.33,1008.2 530.83,1008.1 528.33,1008.1 525.83,1008 523.33,1007.9 520.83,1007.8 518.33,1007.7 515.83,1007.7 513.33,1007.6 510.83,1007.5 508.33,1007.5 505.83,1007.4 503.33,1007.3 500.83,1007.2 498.33,1007.2 495.83,1007.1 493.33,1007.1 490.83,1007 488.33,1006.9 485.83,1006.9 483.33,1006.8 480.83,1006.7 478.33,1006.7 475.83,1006.6 473.33,1006.6 470.83,1006.5 468.33,1006.5 465.83,1006.4 463.33,1006.3 460.83,1006.3 458.33,1006.2 455.83,1006.2 453.33,1006.1 450.83,1006.1 448.33,1006 445.83,1006 443.33,1005.9 440.83,1005.9 438.33,1005.8 435.83,1005.8 433.33,1005.7 430.83,1005.7 428.33,1005.6 425.83,1005.5 423.33,1005.5 420.83,1005.4 418.33,1005.4 415.83,1005.3 413.33,1005.3 410.83,1005.2 408.33,1005.2 405.83,1005.1 403.33,1005.1 400.83,1005 398.33,1005 395.83,1004.9 393.33,1004.8 390.83,1004.8 388.33,1004.7 385.83,1004.7 383.33,1004.6 380.83,1004.5 378.33,1004.5 375.83,1004.4 373.33,1004.3 370.83,1004.3 368.33,1004.2 365.83,1004.1 363.33,1004.1 360.83,1004 358.33,1003.9 355.83,1003.9 353.33,1003.8 350.83,1003.7 348.33,1003.6 345.83,1003.6 343.33,1003.5 340.83,1003.4 338.33,1003.3 335.83,1003.2 333.33,1003.1 330.83,1003.1 328.33,1003 325.83,1002.9 323.33,1002.8 320.83,1002.7 318.33,1002.6 315.83,1002.5 313.33,1002.4 310.83,1002.3 308.33,1002.2 305.83,1002.1 303.33,1002 300.83,1001.9 298.33,1001.7 295.83,1001.6 293.33,1001.5 290.83,1001.4 288.33,1001.3"/>
<path stroke="#808000" d="M288.33,999.5 290.83,999.4 293.33,999.3 295.83,999.1 298.33,999 300.83,998.9 303.33,998.8 305.83,998.6 308.33,998.5 310.83,998.4 313.33,998.3 315.83,998.2 318.33,998.1 320.83,997.9 323.33,997.8 325.83,997.7 328.33,997.6 330.83,997.5 333.33,997.4 335.83,997.3 338.33,997.2 340.83,997.1 343.33,997 345.83,996.9 348.33,996.8 350.83,996.7 353.33,996.5 355.83,996.4 358.33,996.3 360.83,996.2 363.33,996.1 365.83,996.1 368.33,996 370.83,995.9 373.33,995.8 375.83,995.7 378.33,995.6 380.83,995.5 383.33,995.4 385.83,995.3 388.33,995.2 390.83,995.1 393.33,995 395.83,994.9 398.33,994.9 400.83,994.8 403.33,994.7 405.83,994.6 408.33,994.5 410.83,994.4 413.33,994.3 415.83,994.3 418.33,994.2 420.83,994.1 423.33,994 425.83,993.9 428.33,993.9 430.83,993.8 433.33,993.7 435.83,993.6 438.33,993.6 440.83,993.5 443.33,993.4 445.83,993.3 448.33,993.3 450.83,993.2 453.33,993.1 455.83,993 458.33,993 460.83,992.9 463.33,992.8 465.83,992.8 468.33,992.7 470.83,992.6 473.33,992.6 475.83,992.5 478.33,992.4 480.83,992.4 483.33,992.3 485.83,992.2 488.33,992.2 490.83,992.1 493.33,992 495.83,992 498.33,991.9 500.83,991.9 503.33,991.8 505.83,991.7 508.33,991.7 510.83,991.6 513.33,991.6 515.83,991.5 518.33,991.4 520.83,991.4 523.33,991.3 525.83,991.3 528.33,991.2 530.83,991.2 533.33,991.1 535.83,991.1 538.33,991 540.83,990.9 543.33,990.9 545.83,990.8 548.33,990.8 550.83,990.7 553.33,990.7 555.83,990.6 558.33,990.6 560.83,990.5 563.33,990.5 565.83,990.4 568.33,990.4 570.83,990.3 573.33,990.3 575.83,990.2 578.33,990.2 580.83,990.1 583.33,990.1 585.83,990.1 588.33,990 590.83,990 593.33,989.9 595.83,989.9 598.33,989.8 600.83,989.8 603.33,989.7 605.83,989.7 608.33,989.7 610.83,989.6 613.33,989.6 615.83,989.5 618.33,989.5 620.83,989.4 623.33,989.4 625.83,989.4 628.33,989.3 630.83,989.3 633.33,989.2 635.83,989.2 638.33,989.1 640.83,989.1 643.33,989.1 645.83,989 648.33,989 650.83,988.9 653.33,988.9 655.83,988.9 658.33,988.8 660.83,988.8 663.33,988.7 665.83,988.7 668.33,988.7 670.83,988.6 673.33,988.6 675.83,988.6 678.33,988.5 680.83,988.5 683.33,988.4 685.83,988.4 688.33,988.4 690.83,988.3 693.33,988.3 695.83,988.3 698.33,988.2 700.83,988.2 703.33,988.1 705.83,988.1 708.33,988.1 710.83,988 713.33,988 715.83,988 718.33,987.9 720.83,987.9 723.33,987.8 725.83,987.8 728.33,987.8 730.83,987.7 733.33,987.7 735.83,987.7 738.33,987.6 740.83,987.6 743.33,987.5 745.83,987.5 748.33,987.5 750.83,987.4 753.33,987.4 755.83,987.4 758.33,987.3 760.83,987.3 763.33,987.2 765.83,987.2 768.33,987.2 770.83,987.1 773.33,987.1 775.83,987.1 778.33,987 780.83,987 783.33,986.9 785.83,986.9 788.33,986.9 790.83,986.8 793.33,986.8 795.83,986.8 798.33,986.7 800.83,986.7 803.33,986.6 805.83,986.6 808.33,986.6 810.83,986.5 813.33,986.5 815.83,986.4 818.33,986.4 820.83,986.3 823.33,986.3 825.83,986.3 828.33,986.2 830.83,986.2 833.33,986.1 835.83,986.1 838.33,986.1 840.83,986 843.33,986 845.83,985.9 848.33,985.9 850.83,985.8 853.33,985.8 855.83,985.8 858.33,985.7 860.83,985.7 863.33,985.6 865.83,985.6 868.33,985.5 870.83,985.5 873.33,985.4 875.83,985.4 878.33,985.3 880.83,985.3 883.33,985.2 885.83,985.2 888.33,985.1 890.83,985.1 893.33,985 895.83,985 898.33,984.9 900.83,984.9 903.33,984.8 905.83,984.8 908.33,984.7 910.83,984.7 913.33,984.6 915.83,984.6 918.33,984.5 920.83,984.5 923.33,984.4 925.83,984.4 928.33,984.3 930.83,984.3 933.33,984.2 935.83,984.1 938.33,984.1 940.83,984 943.33,984 945.83,983.9 948.33,983.8 950.83,983.8 953.33,983.7 955.83,983.7 958.33,983.6 960.83,983.5 963.33,983.5 965.83,983.4 968.33,983.4 970.83,983.3 973.33,983.2 975.83,983.2 978.33,983.1 980.83,983 983.33,983 985.83,982.9 988.33,982.8 990.83,982.8 993.33,982.7 995.83,982.6 998.33,982.5 1000.83,982.5 1003.33,982.4 1005.83,982.3 1008.33,982.3 1010.83,982.2 1013.33,982.1 1015.83,982 1018.33,982 1020.83,981.9 1023.33,981.8 1025.83,981.7 1028.33,981.6 1030.83,981.6 1033.33,981.5 1035.83,981.4 1038.33,981.3 1040.83,981.2 1043.33,981.1 1045.83,981 1048.33,981 1050.83,980.9 1053.33,980.8 1055.83,980.7 1058.33,980.6 1060.83,980.5 1063.33,980.4 1065.83,980.3 1068.33,980.2 1070.83,980.1 1073.33,980 1075.83,979.8 1078.33,979.7 1080.83,979.6 1083.33,979.5 1085.83,979.4 1088.33,979.3 1090.83,979.1 1093.33,979 1095.83,978.9 1098.33,978.7 1100.83,978.5 1103.33,978.2 1105.83,977.9 1108.33,977.5 1110.83,977 1113.33,976.4 1115.83,975.6 1118.33,974.7 1120.83,973.6 1123.33,972.2 1125.83,970.4 1128.33,968.3 1130.83,965.7 1133.33,962.8 1135.83,959.6 1138.33,956.1 1140.83,952.3 1143.33,948.3 1145.83,944 1148.33,939.5 1150.83,934.9 1153.33,930.1 1155.83,925.3 1158.33,920.3 1160.83,915.3 1163.33,910.1 1165.83,905 1168.33,899.7 1170.83,894.5 1173.33,889.2 1175.83,883.9 1178.33,878.6 1180.83,873.4 1183.33,868.2 1185.83,863 1188.33,857.9 1190.83,852.8 1193.33,847.9 1195.83,843 1198.33,838.3 1200.83,833.6 1203.33,829.1 1205.83,824.7 1208.33,820.3 1210.83,816 1213.33,811.6 1215.83,807.3 1218.33,803 1220.83,798.6 1223.33,794.1 1225.83,789.5 1228.33,784.8 1230.83,780 1233.33,775.2 1235.83,770.3 1238.33,765.3 1240.83,760.4 1243.33,755.4 1245.83,750.5 1248.33,745.6 1250.83,740.8 1253.33,736 1255.83,731.3 1258.33,726.8 1260.83,722.3 1263.33,718 1265.83,713.8 1268.33,709.7 1270.83,705.7 1273.33,701.8 1275.83,698.1 1278.33,694.4 1280.83,690.7 1283.33,687.2 1285.83,683.7 1288.33,680.3 1290.83,677 1293.33,673.7 1295.83,670.5 1298.33,667.4 1300.83,664.4 1303.33,661.5 1305.83,658.7 1308.33,655.9 1310.83,653.3 1313.33,650.7 1315.83,648.3 1318.33,645.9 1320.83,643.7 1323.33,641.6 1325.83,639.6 1328.33,637.7 1330.83,636 1333.33,634.3 1335.83,632.8 1338.33,631.5 1340.83,630.2 1343.33,629.1 1345.83,628.2 1348.33,627.4 1350.83,626.7 1353.33,626.2 1355.83,625.9 1358.33,625.7 1360.83,625.7 1363.33,625.8 1365.83,626.1 1368.33,626.6 1370.83,627.2 1373.33,628.1 1375.83,629.1 1378.33,630.3 1380.83,631.6 1383.33,633.2 1385.83,634.9 1388.33,636.8 1390.83,638.8 1393.33,641 1395.83,643.3 1398.33,645.8 1400.83,648.4 1403.33,651.1 1405.83,653.9 1408.33,656.9 1410.83,659.9 1413.33,663.1 1415.83,666.3 1418.33,669.6 1420.83,673 1423.33,676.5 1425.83,680 1428.33,683.6 1430.83,687.2 1433.33,690.9 1435.83,694.6 1438.33,698.3 1440.83,702 1443.33,705.7 1445.83,709.4 1448.33,713.1 1450.83,716.7 1453.33,720.2 1455.83,723.7 1458.33,727.1 1460.83,730.5 1463.33,733.7 1465.83,736.8 1468.33,739.8 1470.83,742.6 1473.33,745.3 1475.83,747.9 1478.33,750.2 1480.83,752.4 1483.33,754.4 1485.83,756.3 1488.33,758 1490.83,759.5 1493.33,760.8 1495.83,762 1498.33,763 1500.83,763.8 1503.33,764.5 1505.83,765 1508.33,765.3 1510.83,765.5 1513.33,765.5 1515.83,765.3 1518.33,765 1520.83,764.6 1523.33,764 1525.83,763.2 1528.33,762.2 1530.83,761.2 1533.33,759.9 1535.83,758.5 1538.33,757 1540.83,755.3 1543.33,753.5 1545.83,751.5 1548.33,749.3 1550.83,747.1 1553.33,744.7 1555.83,742.2 1558.33,739.5 1560.83,736.8 1563.33,733.9 1565.83,731 1568.33,727.9 1570.83,724.8 1573.33,721.6 1575.83,718.4 1578.33,715 1580.83,711.6 1583.33,708.2 1585.83,704.7 1588.33,701.1 1590.83,697.5 1593.33,693.9 1595.83,690.3 1598.33,686.7 1600.83,683 1603.33,679.3 1605.83,675.6 1608.33,671.9 1610.83,668.2 1613.33,664.5 1615.83,660.8 1618.33,657.1 1620.83,653.4 1623.33,649.6 1625.83,645.9 1628.33,642.2 1630.83,638.5 1633.33,634.7 1635.83,630.9 1638.33,627 1640.83,622.9 1643.33,618.6 1645.83,614.1 1648.33,609.5 1650.83,604.7 1653.33,599.8 1655.83,594.8 1658.33,589.7 1660.83,584.6 1663.33,579.4 1665.83,574.3 1668.33,569.2 1670.83,564.1 1673.33,559.1 1675.83,554.3 1678.33,549.5 1680.83,544.9 1683.33,540.4 1685.83,536.2 1688.33,532.2 1690.83,528.4 1693.33,525 1690.83,532.9 1688.33,540.5 1685.83,547.7 1683.33,554.6 1680.83,561.2 1678.33,567.5 1675.83,573.6 1673.33,579.5 1670.83,585.2 1668.33,590.7 1665.83,596 1663.33,601.2 1660.83,606.3 1658.33,611.3 1655.83,616.3 1653.33,621.2 1650.83,626.1 1648.33,631 1645.83,635.8 1643.33,640.7 1640.83,645.6 1638.33,650.4 1635.83,655.2 1633.33,660.1 1630.83,664.9 1628.33,669.7 1625.83,674.4 1623.33,679.2 1620.83,683.9 1618.33,688.7 1615.83,693.4 1613.33,698.1 1610.83,702.8 1608.33,707.5 1605.83,712.2 1603.33,716.8 1600.83,721.4 1598.33,726.1 1595.83,730.7 1593.33,735.3 1590.83,739.8 1588.33,744.4 1585.83,748.9 1583.33,753.4 1580.83,757.9 1578.33,762.4 1575.83,766.9 1573.33,771.3 1570.83,775.7 1568.33,780.1 1565.83,784.5 1563.33,788.9 1560.83,793.2 1558.33,797.5 1555.83,801.8 1553.33,806.1 1550.83,810.3 1548.33,814.5 1545.83,818.7 1543.33,822.9 1540.83,827 1538.33,831.1 1535.83,835.2 1533.33,839.2 1530.83,843.3 1528.33,847.2 1525.83,851.2 1523.33,855.1 1520.83,859.1 1518.33,862.9 1515.83,866.8 1513.33,870.6 1510.83,874.4 1508.33,878.1 1505.83,881.8 1503.33,885.5 1500.83,889.1 1498.33,892.8 1495.83,896.3 1493.33,899.9 1490.83,903.4 1488.33,906.8 1485.83,910.3 1483.33,913.7 1480.83,917 1478.33,920.3 1475.83,923.6 1473.33,926.8 1470.83,930 1468.33,933.2 1465.83,936.3 1463.33,939.4 1460.83,942.4 1458.33,945.4 1455.83,948.4 1453.33,951.3 1450.83,954.1 1448.33,956.9 1445.83,959.7 1443.33,962.4 1440.83,965.1 1438.33,967.7 1435.83,970.3 1433.33,972.9 1430.83,975.3 1428.33,977.8 1425.83,980.2 1423.33,982.5 1420.83,984.8 1418.33,987.1 1415.83,989.3 1413.33,991.5 1410.83,993.6 1408.33,995.7 1405.83,997.8 1403.33,999.8 1400.83,1001.8 1398.33,1003.7 1395.83,1005.6 1393.33,1007.4 1390.83,1009.3 1388.33,1011 1385.83,1012.8 1383.33,1014.5 1380.83,1016.2 1378.33,1017.8 1375.83,1019.4 1373.33,1021 1370.83,1022.6 1368.33,1024.1 1365.83,1025.6 1363.33,1027 1360.83,1028.5 1358.33,1029.9 1355.83,1031.3 1353.33,1032.6 1350.83,1033.9 1348.33,1035.2 1345.83,1036.5 1343.33,1037.8 1340.83,1039 1338.33,1040.2 1335.83,1041.4 1333.33,1042.6 1330.83,1043.7 1328.33,1044.8 1325.83,1045.9 1323.33,1047 1320.83,1048.1 1318.33,1049.1 1315.83,1050.2 1313.33,1051.2 1310.83,1052.2 1308.33,1053.2 1305.83,1054.2 1303.33,1055.1 1300.83,1056.1 1298.33,1057 1295.83,1058 1293.33,1058.9 1290.83,1059.8 1288.33,1060.7 1285.83,1061.6 1283.33,1062.5 1280.83,1063.4 1278.33,1064.3 1275.83,1065.1 1273.33,1066 1270.83,1066.9 1268.33,1067.7 1265.83,1068.6 1263.33,1069.5 1260.83,1070.3 1258.33,1071.2 1255.83,1072 1253.33,1072.9 1250.83,1073.7 1248.33,1074.6 1245.83,1075.5 1243.33,1076.3 1240.83,1077.2 1238.33,1078.1 1235.83,1079 1233.33,1079.9 1230.83,1080.8 1228.33,1081.7 1225.83,1082.6 1223.33,1083.5 1220.83,1084.5 1218.33,1085.4 1215.83,1086.4 1213.33,1087.3 1210.83,1088.3 1208.33,1089.3 1205.83,1090.3 1203.33,1091.3 1200.83,1092.4 1198.33,1093.4 1195.83,1094.5 1193.33,1095.6 1190.83,1096.6 1188.33,1097.8 1185.83,1098.9 1183.33,1100 1180.83,1101.2 1178.33,1102.3 1175.83,1103.5 1173.33,1104.7 1170.83,1106 1168.33,1107.2 1165.83,1108.5 1163.33,1109.8 1160.83,1111.1 1158.33,1112.4 1155.83,1113.7 1153.33,1115.1 1150.83,1116.4 1148.33,1117.8 1145.83,1119.3 1143.33,1120.7 1140.83,1122.2 1138.33,1123.7 1135.83,1125.2 1133.33,1126.7 1130.83,1128.3 1128.33,1129.8 1125.83,1131.5 1123.33,1133.1 1120.83,1134.7 1118.33,1136.4 1115.83,1138.1 1113.33,1139.9 1110.83,1141.6 1108.33,1143.4 1105.83,1145.2 1103.33,1147 1100.83,1148.8 1098.33,1150.6 1095.83,1152.4 1093.33,1154.2 1090.83,1156.1 1088.33,1157.9 1085.83,1159.7 1083.33,1161.5 1080.83,1163.3 1078.33,1165.1 1075.83,1166.9 1073.33,1168.6 1070.83,1170.3 1068.33,1172 1065.83,1173.7 1063.33,1175.4 1060.83,1177 1058.33,1178.5 1055.83,1180.1 1053.33,1181.6 1050.83,1183.1 1048.33,1184.5 1045.83,1185.9 1043.33,1187.3 1040.83,1188.7 1038.33,1190 1035.83,1191.4 1033.33,1192.7 1030.83,1194 1028.33,1195.3 1025.83,1196.5 1023.33,1197.8 1020.83,1199 1018.33,1200.2 1015.83,1201.5 1013.33,1202.7 1010.83,1203.9 1008.33,1205.1 1005.83,1206.3 1003.33,1207.4 1000.83,1208.6 998.33,1209.7 995.83,1210.8 993.33,1211.9 990.83,1212.9 988.33,1214 985.83,1215 983.33,1216 980.83,1216.9 978.33,1217.9 975.83,1218.8 973.33,1219.8 970.83,1220.7 968.33,1221.6 965.83,1222.6 963.33,1223.5 960.83,1224.4 958.33,1225.3 955.83,1226.2 953.33,1227 950.83,1227.6 948.33,1228.2 945.83,1228.7 943.33,1229 940.83,1229.1 938.33,1229.1 935.83,1229 933.33,1228.9 930.83,1228.6 928.33,1228.2 925.83,1227.8 923.33,1227.3 920.83,1226.8 918.33,1226.2 915.83,1225.6 913.33,1225 910.83,1224.2 908.33,1223.2 905.83,1222.1 903.33,1220.7 900.83,1219.1 898.33,1217.2 895.83,1214.9 893.33,1212.3 890.83,1209.3 888.33,1205.9 885.83,1202 883.33,1197.8 880.83,1193.1 878.33,1187.9 875.83,1182.3 873.33,1176.3 870.83,1169.7 868.33,1162.8 865.83,1155.6 863.33,1148.5 860.83,1141.6 858.33,1135.1 855.83,1128.9 853.33,1123 850.83,1117.1 848.33,1111.2 845.83,1105.2 843.33,1099.3 840.83,1093.7 838.33,1088.4 835.83,1083.4 833.33,1078.8 830.83,1074.5 828.33,1070.6 825.83,1067 823.33,1063.7 820.83,1060.8 818.33,1058.1 815.83,1055.7 813.33,1053.5 810.83,1051.5 808.33,1049.7 805.83,1048.1 803.33,1046.5 800.83,1045 798.33,1043.6 795.83,1042.3 793.33,1041 790.83,1039.7 788.33,1038.6 785.83,1037.5 783.33,1036.5 780.83,1035.7 778.33,1034.9 775.83,1034.1 773.33,1033.5 770.83,1032.8 768.33,1032.2 765.83,1031.7 763.33,1031.1 760.83,1030.6 758.33,1030 755.83,1029.5 753.33,1029 750.83,1028.5 748.33,1028 745.83,1027.5 743.33,1027 740.83,1026.6 738.33,1026.1 735.83,1025.7 733.33,1025.2 730.83,1024.8 728.33,1024.4 725.83,1024 723.33,1023.6 720.83,1023.2 718.33,1022.8 715.83,1022.4 713.33,1022.1 710.83,1021.7 708.33,1021.4 705.83,1021 703.33,1020.7 700.83,1020.3 698.33,1020 695.83,1019.7 693.33,1019.4 690.83,1019.1 688.33,1018.8 685.83,1018.5 683.33,1018.2 680.83,1018 678.33,1017.7 675.83,1017.4 673.33,1017.2 670.83,1016.9 668.33,1016.7 665.83,1016.4 663.33,1016.2 660.83,1016 658.33,1015.7 655.83,1015.5 653.33,1015.3 650.83,1015.1 648.33,1014.9 645.83,1014.7 643.33,1014.5 640.83,1014.3 638.33,1014.1 635.83,1013.9 633.33,1013.7 630.83,1013.5 628.33,1013.4 625.83,1013.2 623.33,1013 620.83,1012.8 618.33,1012.7 615.83,1012.5 613.33,1012.3 610.83,1012.2 608.33,1012 605.83,1011.9 603.33,1011.7 600.83,1011.6 598.33,1011.4 595.83,1011.3 593.33,1011.2 590.83,1011 588.33,1010.9 585.83,1010.8 583.33,1010.6 580.83,1010.5 578.33,1010.4 575.83,1010.3 573.33,1010.1 570.83,1010 568.33,1009.9 565.83,1009.8 563.33,1009.7 560.83,1009.6 558.33,1009.5 555.83,1009.4 553.33,1009.3 550.83,1009.2 548.33,1009.1 545.83,1009 543.33,1008.9 540.83,1008.8 538.33,1008.7 535.83,1008.6 533.33,1008.5 530.83,1008.5 528.33,1008.4 525.83,1008.3 523.33,1008.2 520.83,1008.1 518.33,1008.1 515.83,1008 513.33,1007.9 510.83,1007.8 508.33,1007.8 505.83,1007.7 503.33,1007.6 500.83,1007.6 498.33,1007.5 495.83,1007.4 493.33,1007.4 490.83,1007.3 488.33,1007.2 485.83,1007.2 483.33,1007.1 480.83,1007.1 478.33,1007 475.83,1006.9 473.33,1006.9 470.83,1006.8 468.33,1006.8 465.83,1006.7 463.33,1006.6 460.83,1006.6 458.33,1006.5 455.83,1006.5 453.33,1006.4 450.83,1006.4 448.33,1006.3 445.83,1006.3 443.33,1006.2 440.83,1006.2 438.33,1006.1 435.83,1006.1 433.33,1006 430.83,1005.9 428.33,1005.9 425.83,1005.8 423.33,1005.8 420.83,1005.7 418.33,1005.7 415.83,1005.6 413.33,1005.6 410.83,1005.5 408.33,1005.5 405.83,1005.4 403.33,1005.3 400.83,1005.3 398.33,1005.2 395.83,1005.2 393.33,1005.1 390.83,1005.1 388.33,1005 385.83,1004.9 383.33,1004.9 380.83,1004.8 378.33,1004.7 375.83,1004.7 373.33,1004.6 370.83,1004.6 368.33,1004.5 365.83,1004.4 363.33,1004.3 360.83,1004.3 358.33,1004.2 355.83,1004.1 353.33,1004.1 350.83,1004 348.33,1003.9 345.83,1003.8 343.33,1003.7 340.83,1003.7 338.33,1003.6 335.83,1003.5 333.33,1003.4 330.83,1003.3 328.33,1003.2 325.83,1003.1 323.33,1003 320.83,1002.9 318.33,1002.8 315.83,1002.7 313.33,1002.6 310.83,1002.5 308.33,1002.4 305.83,1002.3 303.33,1002.2 300.83,1002.1 298.33,1002 295.83,1001.9 293.33,1001.7 290.83,1001.6 288.33,1001.5"/>
</g>
<rect x="324.2" y="47.2" width="1728.8" height="1272.8" fill="none" stroke="#000" stroke-width="5.8"/>
<path class="ax" d="M324.2,47.2 H299.2 M324.2,114.2 H311.7 M324.2,181.2 H299.2 M324.2,248.2 H311.7 M324.2,315.2 H299.2 M324.2,382.1 H311.7 M324.2,449.1 H299.2 M324.2,516.1 H311.7 M324.2,583.1 H299.2 M324.2,650.1 H311.7 M324.2,717.1 H299.2 M324.2,784.1 H311.7 M324.2,851.1 H299.2 M324.2,918.1 H311.7 M324.2,985.1 H299.2 M324.2,1052.0 H311.7 M324.2,1119.0 H299.2 M324.2,1186.0 H311.7 M324.2,1253.0 H299.2 M324.2,1320.0 H311.7 M346.0,1320.0 V1345.0 M451.4,1320.0 V1332.5 M556.8,1320.0 V1345.0 M662.1,1320.0 V1332.5 M767.5,1320.0 V1345.0 M872.9,1320.0 V1332.5 M978.3,1320.0 V1345.0 M1083.6,1320.0 V1332.5 M1189.0,1320.0 V1345.0 M1294.4,1320.0 V1332.5 M1399.8,1320.0 V1345.0 M1505.1,1320.0 V1332.5 M1610.5,1320.0 V1345.0 M1715.9,1320.0 V1332.5 M1821.3,1320.0 V1345.0 M1926.6,1320.0 V1332.5 M2032.0,1320.0 V1345.0"/>
<g class="tk" text-anchor="end">
<text transform="translate(283.5,61.0) scale(1,1.04)">700</text>
<text transform="translate(283.5,195.0) scale(1,1.04)">600</text>
<text transform="translate(283.5,329.0) scale(1,1.04)">500</text>
<text transform="translate(283.5,462.9) scale(1,1.04)">400</text>
<text transform="translate(283.5,596.9) scale(1,1.04)">300</text>
<text transform="translate(283.5,730.9) scale(1,1.04)">200</text>
<text transform="translate(283.5,864.9) scale(1,1.04)">100</text>
<text transform="translate(283.5,998.9) scale(1,1.04)">0</text>
<text transform="translate(283.5,1132.8) scale(1,1.04)">-100</text>
<text transform="translate(283.5,1266.8) scale(1,1.04)">-200</text>
</g>
<g class="tk" text-anchor="middle">
<text transform="translate(346.0,1401.7) scale(1,1.04)">0.0</text>
<text transform="translate(556.8,1401.7) scale(1,1.04)">0.1</text>
<text transform="translate(767.5,1401.7) scale(1,1.04)">0.2</text>
<text transform="translate(978.3,1401.7) scale(1,1.04)">0.3</text>
<text transform="translate(1189.0,1401.7) scale(1,1.04)">0.4</text>
<text transform="translate(1399.8,1401.7) scale(1,1.04)">0.5</text>
<text transform="translate(1610.5,1401.7) scale(1,1.04)">0.6</text>
<text transform="translate(1821.3,1401.7) scale(1,1.04)">0.7</text>
<text transform="translate(2032.0,1401.7) scale(1,1.04)">0.8</text>
</g>
<text class="tt" text-anchor="middle" transform="translate(1189,1499.8) scale(1,1.03)">Potential (V)</text>
<text class="tt" text-anchor="middle" transform="translate(76.5,692.8) rotate(-90) scale(1,1.03)">Current (µA)</text>
<path d="M387.6,127.4 H526.8" fill="none" stroke="#000000" stroke-width="7.6" stroke-linecap="round"/>
<text class="lg" transform="translate(544,148.0) scale(1,1.03)">1st cycle</text>
<path d="M387.6,203.3 H526.8" fill="none" stroke="#ff0000" stroke-width="7.6" stroke-linecap="round"/>
<text class="lg" transform="translate(544,224.0) scale(1,1.03)">10th cycle</text>
<path d="M387.6,279.3 H526.8" fill="none" stroke="#00ff00" stroke-width="7.6" stroke-linecap="round"/>
<text class="lg" transform="translate(544,300.0) scale(1,1.03)">25th cycle</text>
<path d="M387.6,355.2 H526.8" fill="none" stroke="#0000ff" stroke-width="7.6" stroke-linecap="round"/>
<text class="lg" transform="translate(544,376.0) scale(1,1.03)">50th cycle</text>
<path d="M387.6,431.1 H526.8" fill="none" stroke="#00ffff" stroke-width="7.6" stroke-linecap="round"/>
<text class="lg" transform="translate(544,452.0) scale(1,1.03)">60th cycle</text>
<path d="M387.6,507.1 H526.8" fill="none" stroke="#ff00ff" stroke-width="7.6" stroke-linecap="round"/>
<text class="lg" transform="translate(544,528.0) scale(1,1.03)">70th cycle</text>
<path d="M387.6,583.0 H526.8" fill="none" stroke="#808000" stroke-width="7.6" stroke-linecap="round"/>
<text class="lg" transform="translate(544,604.0) scale(1,1.03)">80th cycle</text>
</svg></body></html>
